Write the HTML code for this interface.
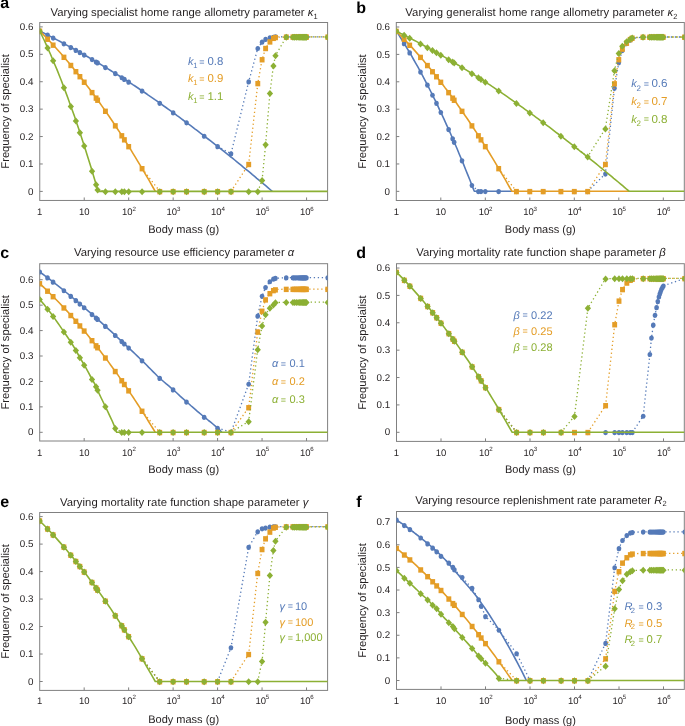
<!DOCTYPE html>
<html><head><meta charset="utf-8"><style>
html,body{margin:0;padding:0;background:#fff;}
svg{display:block;font-family:"Liberation Sans", sans-serif;text-rendering:geometricPrecision;will-change:transform;}
</style></head><body>
<svg width="685" height="726" viewBox="0 0 685 726">
<rect width="685" height="726" fill="#fff"/>
<rect x="39.75" y="22.50" width="287.85" height="177.95" fill="none" stroke="#808080" stroke-width="1"/>
<line x1="39.75" y1="191.40" x2="42.75" y2="191.40" stroke="#808080" stroke-width="1"/>
<text x="33.45" y="194.55" text-anchor="end" font-size="9.8" fill="#231f20">0</text>
<line x1="39.75" y1="163.98" x2="42.75" y2="163.98" stroke="#808080" stroke-width="1"/>
<text x="33.45" y="167.13" text-anchor="end" font-size="9.8" fill="#231f20">0.1</text>
<line x1="39.75" y1="136.56" x2="42.75" y2="136.56" stroke="#808080" stroke-width="1"/>
<text x="33.45" y="139.71" text-anchor="end" font-size="9.8" fill="#231f20">0.2</text>
<line x1="39.75" y1="109.14" x2="42.75" y2="109.14" stroke="#808080" stroke-width="1"/>
<text x="33.45" y="112.29" text-anchor="end" font-size="9.8" fill="#231f20">0.3</text>
<line x1="39.75" y1="81.72" x2="42.75" y2="81.72" stroke="#808080" stroke-width="1"/>
<text x="33.45" y="84.87" text-anchor="end" font-size="9.8" fill="#231f20">0.4</text>
<line x1="39.75" y1="54.30" x2="42.75" y2="54.30" stroke="#808080" stroke-width="1"/>
<text x="33.45" y="57.45" text-anchor="end" font-size="9.8" fill="#231f20">0.5</text>
<line x1="39.75" y1="26.88" x2="42.75" y2="26.88" stroke="#808080" stroke-width="1"/>
<text x="33.45" y="30.03" text-anchor="end" font-size="9.8" fill="#231f20">0.6</text>
<text x="39.75" y="215.30" text-anchor="middle" font-size="9.5" fill="#231f20">1</text>
<line x1="84.22" y1="200.45" x2="84.22" y2="197.45" stroke="#808080" stroke-width="1"/>
<text x="84.22" y="215.30" text-anchor="middle" font-size="9.5" fill="#231f20">10</text>
<line x1="128.69" y1="200.45" x2="128.69" y2="197.45" stroke="#808080" stroke-width="1"/>
<text x="122.09" y="215.30" font-size="9.5" fill="#231f20">10<tspan font-size="6.2" dx="-0.2" dy="-4.3">2</tspan></text>
<line x1="173.16" y1="200.45" x2="173.16" y2="197.45" stroke="#808080" stroke-width="1"/>
<text x="166.56" y="215.30" font-size="9.5" fill="#231f20">10<tspan font-size="6.2" dx="-0.2" dy="-4.3">3</tspan></text>
<line x1="217.63" y1="200.45" x2="217.63" y2="197.45" stroke="#808080" stroke-width="1"/>
<text x="211.03" y="215.30" font-size="9.5" fill="#231f20">10<tspan font-size="6.2" dx="-0.2" dy="-4.3">4</tspan></text>
<line x1="262.10" y1="200.45" x2="262.10" y2="197.45" stroke="#808080" stroke-width="1"/>
<text x="255.50" y="215.30" font-size="9.5" fill="#231f20">10<tspan font-size="6.2" dx="-0.2" dy="-4.3">5</tspan></text>
<line x1="306.57" y1="200.45" x2="306.57" y2="197.45" stroke="#808080" stroke-width="1"/>
<text x="299.97" y="215.30" font-size="9.5" fill="#231f20">10<tspan font-size="6.2" dx="-0.2" dy="-4.3">6</tspan></text>
<clipPath id="c62"><rect x="39.75" y="22.50" width="287.85" height="177.95"/></clipPath>
<g clip-path="url(#c62)">
<g fill="#557ab8"><polyline fill="none" stroke="#557ab8" stroke-width="1.6" stroke-linejoin="round" points="39.8,31.0 42.0,32.1 44.2,33.2 46.4,34.4 48.6,35.5 50.8,36.6 53.0,37.8 55.3,39.0 57.5,40.1 59.7,41.3 61.9,42.5 64.1,43.7 66.3,44.9 68.5,46.1 70.8,47.3 73.0,48.5 75.2,49.8 77.4,51.0 79.6,52.2 81.8,53.5 84.1,54.8 86.3,56.0 88.5,57.3 90.7,58.6 92.9,59.9 95.1,61.2 97.3,62.5 99.6,63.8 101.8,65.1 104.0,66.5 106.2,67.8 108.4,69.1 110.6,70.5 112.8,71.9 115.1,73.2 117.3,74.6 119.5,76.0 121.7,77.4 123.9,78.8 126.1,80.3 128.4,81.7 130.6,83.1 132.8,84.6 135.0,86.0 137.2,87.5 139.4,89.0 141.6,90.5 143.9,92.0 146.1,93.5 148.3,95.1 150.5,96.6 152.7,98.1 154.9,99.7 157.1,101.2 159.4,102.8 161.6,104.4 163.8,106.0 166.0,107.5 168.2,109.1 170.4,110.7 172.7,112.3 174.9,113.9 177.1,115.6 179.3,117.2 181.5,118.8 183.7,120.5 185.9,122.1 188.2,123.8 190.4,125.4 192.6,127.1 194.8,128.8 197.0,130.4 199.2,132.1 201.4,133.8 203.7,135.5 205.9,137.3 208.1,139.0 210.3,140.7 212.5,142.4 214.7,144.2 217.0,145.9 219.2,147.6 221.4,149.4 223.6,151.2 225.8,152.9 228.0,154.7 230.2,156.5 232.5,158.2 234.7,160.0 236.9,161.8 239.1,163.6 241.3,165.4 243.5,167.3 245.7,169.1 248.0,170.9 250.2,172.7 252.4,174.6 254.6,176.4 256.8,178.3 259.0,180.1 261.3,182.0 263.5,183.9 265.7,185.7 267.9,187.6 270.1,189.5 272.3,191.4 272.3,191.4"/><polyline fill="none" stroke="#557ab8" stroke-width="1.3" stroke-dasharray="1.3 2.7" points="217.6,146.4 231.0,153.7 248.7,81.7 257.8,48.3 262.1,42.0 265.6,39.2 269.9,37.6 273.4,37.0 275.5,36.6 286.3,36.9 293.0,36.9 294.6,36.9 296.3,36.9 298.1,36.9 299.7,36.9 300.9,36.9 302.0,36.9 302.9,36.9 303.7,36.9 304.6,36.9 305.6,36.9 306.5,36.9 327.8,36.9"/><ellipse cx="39.75" cy="31.24" rx="2.3" ry="2.6"/><ellipse cx="47.58" cy="35.21" rx="2.3" ry="2.6"/><ellipse cx="53.14" cy="38.09" rx="2.3" ry="2.6"/><ellipse cx="63.94" cy="43.84" rx="2.3" ry="2.6"/><ellipse cx="70.83" cy="47.60" rx="2.3" ry="2.6"/><ellipse cx="75.90" cy="50.41" rx="2.3" ry="2.6"/><ellipse cx="79.91" cy="52.65" rx="2.3" ry="2.6"/><ellipse cx="84.22" cy="55.10" rx="2.3" ry="2.6"/><ellipse cx="92.05" cy="59.61" rx="2.3" ry="2.6"/><ellipse cx="96.09" cy="61.99" rx="2.3" ry="2.6"/><ellipse cx="97.61" cy="62.88" rx="2.3" ry="2.6"/><ellipse cx="105.43" cy="67.58" rx="2.3" ry="2.6"/><ellipse cx="115.30" cy="73.65" rx="2.3" ry="2.6"/><ellipse cx="121.80" cy="77.74" rx="2.3" ry="2.6"/><ellipse cx="124.38" cy="79.38" rx="2.3" ry="2.6"/><ellipse cx="128.69" cy="82.16" rx="2.3" ry="2.6"/><ellipse cx="142.08" cy="91.05" rx="2.3" ry="2.6"/><ellipse cx="159.77" cy="103.35" rx="2.3" ry="2.6"/><ellipse cx="173.16" cy="112.95" rx="2.3" ry="2.6"/><ellipse cx="186.55" cy="122.80" rx="2.3" ry="2.6"/><ellipse cx="204.24" cy="136.24" rx="2.3" ry="2.6"/><ellipse cx="217.63" cy="146.68" rx="2.3" ry="2.6"/><ellipse cx="231.02" cy="153.95" rx="2.3" ry="2.6"/><ellipse cx="248.71" cy="81.97" rx="2.3" ry="2.6"/><ellipse cx="257.79" cy="48.52" rx="2.3" ry="2.6"/><ellipse cx="262.10" cy="42.21" rx="2.3" ry="2.6"/><ellipse cx="265.61" cy="39.47" rx="2.3" ry="2.6"/><ellipse cx="269.93" cy="37.82" rx="2.3" ry="2.6"/><ellipse cx="273.44" cy="37.28" rx="2.3" ry="2.6"/><ellipse cx="275.49" cy="36.86" rx="2.3" ry="2.6"/><ellipse cx="286.29" cy="37.14" rx="2.3" ry="2.6"/><ellipse cx="292.96" cy="37.14" rx="2.3" ry="2.6"/><ellipse cx="294.56" cy="37.14" rx="2.3" ry="2.6"/><ellipse cx="296.34" cy="37.14" rx="2.3" ry="2.6"/><ellipse cx="298.12" cy="37.14" rx="2.3" ry="2.6"/><ellipse cx="299.68" cy="37.14" rx="2.3" ry="2.6"/><ellipse cx="300.88" cy="37.14" rx="2.3" ry="2.6"/><ellipse cx="301.99" cy="37.14" rx="2.3" ry="2.6"/><ellipse cx="302.88" cy="37.14" rx="2.3" ry="2.6"/><ellipse cx="303.68" cy="37.14" rx="2.3" ry="2.6"/><ellipse cx="304.57" cy="37.14" rx="2.3" ry="2.6"/><ellipse cx="305.59" cy="37.14" rx="2.3" ry="2.6"/><ellipse cx="306.48" cy="37.14" rx="2.3" ry="2.6"/><ellipse cx="327.78" cy="37.14" rx="2.3" ry="2.6"/></g>
<g fill="#e49d26"><polyline fill="none" stroke="#e49d26" stroke-width="1.6" stroke-linejoin="round" points="39.8,31.0 42.0,33.2 44.2,35.5 46.4,37.8 48.6,40.1 50.9,42.5 53.1,44.9 55.3,47.3 57.5,49.8 59.8,52.3 62.0,54.8 64.2,57.4 66.4,60.0 68.6,62.6 70.9,65.3 73.1,68.0 75.3,70.7 77.5,73.5 79.8,76.3 82.0,79.1 84.2,82.0 86.4,84.9 88.6,87.8 90.9,90.8 93.1,93.8 95.3,96.8 97.5,99.9 99.8,103.0 102.0,106.1 104.2,109.3 106.4,112.5 108.7,115.7 110.9,119.0 113.1,122.3 115.3,125.6 117.5,129.0 119.8,132.4 122.0,135.9 124.2,139.3 126.4,142.8 128.7,146.4 130.9,149.9 133.1,153.6 135.3,157.2 137.5,160.9 139.8,164.6 142.0,168.3 144.2,172.1 146.4,175.9 148.7,179.7 150.9,183.6 153.1,187.5 155.3,191.4 155.3,191.4"/><polyline fill="none" stroke="#e49d26" stroke-width="1.3" stroke-dasharray="1.3 2.7" points="142.1,168.5 159.8,191.4"/><polyline fill="none" stroke="#e49d26" stroke-width="1.3" stroke-dasharray="1.3 2.7" points="231.0,191.4 248.7,164.3 257.8,83.4 262.1,59.5 265.6,48.3 269.9,41.7 273.4,38.1 275.5,37.3 286.3,36.9 293.0,36.9 294.6,36.9 296.3,36.9 298.1,36.9 299.7,36.9 300.9,36.9 302.0,36.9 302.9,36.9 303.7,36.9 304.6,36.9 305.6,36.9 306.5,36.9 327.8,36.9"/><rect x="37.30" y="28.54" width="4.9" height="5.4"/><rect x="45.13" y="36.54" width="4.9" height="5.4"/><rect x="50.69" y="42.48" width="4.9" height="5.4"/><rect x="61.49" y="54.62" width="4.9" height="5.4"/><rect x="68.38" y="62.78" width="4.9" height="5.4"/><rect x="73.45" y="68.99" width="4.9" height="5.4"/><rect x="77.46" y="74.01" width="4.9" height="5.4"/><rect x="81.77" y="79.54" width="4.9" height="5.4"/><rect x="89.60" y="89.91" width="4.9" height="5.4"/><rect x="93.64" y="95.43" width="4.9" height="5.4"/><rect x="95.16" y="97.53" width="4.9" height="5.4"/><rect x="102.98" y="108.60" width="4.9" height="5.4"/><rect x="112.85" y="123.17" width="4.9" height="5.4"/><rect x="119.35" y="133.11" width="4.9" height="5.4"/><rect x="121.93" y="137.14" width="4.9" height="5.4"/><rect x="126.24" y="143.98" width="4.9" height="5.4"/><rect x="139.63" y="166.01" width="4.9" height="5.4"/><rect x="157.32" y="188.95" width="4.9" height="5.4"/><rect x="170.71" y="188.95" width="4.9" height="5.4"/><rect x="184.10" y="188.95" width="4.9" height="5.4"/><rect x="201.79" y="188.95" width="4.9" height="5.4"/><rect x="215.18" y="188.95" width="4.9" height="5.4"/><rect x="228.57" y="188.95" width="4.9" height="5.4"/><rect x="246.26" y="161.80" width="4.9" height="5.4"/><rect x="255.34" y="80.92" width="4.9" height="5.4"/><rect x="259.65" y="57.06" width="4.9" height="5.4"/><rect x="263.16" y="45.82" width="4.9" height="5.4"/><rect x="267.48" y="39.24" width="4.9" height="5.4"/><rect x="270.99" y="35.67" width="4.9" height="5.4"/><rect x="273.04" y="34.85" width="4.9" height="5.4"/><rect x="283.84" y="34.44" width="4.9" height="5.4"/><rect x="290.51" y="34.44" width="4.9" height="5.4"/><rect x="292.11" y="34.44" width="4.9" height="5.4"/><rect x="293.89" y="34.44" width="4.9" height="5.4"/><rect x="295.67" y="34.44" width="4.9" height="5.4"/><rect x="297.23" y="34.44" width="4.9" height="5.4"/><rect x="298.43" y="34.44" width="4.9" height="5.4"/><rect x="299.54" y="34.44" width="4.9" height="5.4"/><rect x="300.43" y="34.44" width="4.9" height="5.4"/><rect x="301.23" y="34.44" width="4.9" height="5.4"/><rect x="302.12" y="34.44" width="4.9" height="5.4"/><rect x="303.14" y="34.44" width="4.9" height="5.4"/><rect x="304.03" y="34.44" width="4.9" height="5.4"/><rect x="325.33" y="34.44" width="4.9" height="5.4"/></g>
<g fill="#8cb034"><polyline fill="none" stroke="#8cb034" stroke-width="1.6" stroke-linejoin="round" points="39.8,31.0 41.9,35.5 44.1,40.0 46.2,44.7 48.4,49.6 50.6,54.5 52.7,59.5 54.9,64.7 57.1,69.9 59.2,75.3 61.4,80.8 63.5,86.4 65.7,92.1 67.9,98.0 70.0,103.9 72.2,110.0 74.4,116.1 76.5,122.4 78.7,128.8 80.8,135.3 83.0,142.0 85.2,148.7 87.3,155.6 89.5,162.5 91.7,169.6 93.8,176.8 96.0,184.1 98.1,191.4 98.1,191.4 336.7,191.4"/><polyline fill="none" stroke="#8cb034" stroke-width="1.3" stroke-dasharray="1.3 2.7" points="97.6,189.7 105.4,191.4"/><polyline fill="none" stroke="#8cb034" stroke-width="1.3" stroke-dasharray="1.3 2.7" points="257.8,191.4 262.1,180.2 265.6,144.5 269.9,93.2 273.4,65.8 275.5,55.4 286.3,36.9 293.0,36.9 294.6,36.9 296.3,36.9 298.1,36.9 299.7,36.9 300.9,36.9 302.0,36.9 302.9,36.9 303.7,36.9 304.6,36.9 305.6,36.9 306.5,36.9 327.8,36.9"/><path d="M39.75 27.74L42.90 31.24L39.75 34.74L36.60 31.24Z"/><path d="M47.58 44.46L50.73 47.96L47.58 51.46L44.43 47.96Z"/><path d="M53.14 57.24L56.29 60.74L53.14 64.24L49.99 60.74Z"/><path d="M63.94 84.22L67.09 87.72L63.94 91.22L60.79 87.72Z"/><path d="M70.83 102.91L73.98 106.41L70.83 109.91L67.68 106.41Z"/><path d="M75.90 117.39L79.05 120.89L75.90 124.39L72.75 120.89Z"/><path d="M79.91 129.27L83.06 132.77L79.91 136.27L76.76 132.77Z"/><path d="M84.22 142.50L87.37 146.00L84.22 149.50L81.07 146.00Z"/><path d="M92.05 167.65L95.20 171.15L92.05 174.65L88.90 171.15Z"/><path d="M96.09 181.24L99.24 184.74L96.09 188.24L92.94 184.74Z"/><path d="M97.61 186.42L100.76 189.92L97.61 193.42L94.46 189.92Z"/><path d="M105.43 188.15L108.58 191.65L105.43 195.15L102.28 191.65Z"/><path d="M115.30 188.15L118.45 191.65L115.30 195.15L112.15 191.65Z"/><path d="M121.80 188.15L124.95 191.65L121.80 195.15L118.65 191.65Z"/><path d="M124.38 188.15L127.53 191.65L124.38 195.15L121.23 191.65Z"/><path d="M128.69 188.15L131.84 191.65L128.69 195.15L125.54 191.65Z"/><path d="M142.08 188.15L145.23 191.65L142.08 195.15L138.93 191.65Z"/><path d="M159.77 188.15L162.92 191.65L159.77 195.15L156.62 191.65Z"/><path d="M173.16 188.15L176.31 191.65L173.16 195.15L170.01 191.65Z"/><path d="M186.55 188.15L189.70 191.65L186.55 195.15L183.40 191.65Z"/><path d="M204.24 188.15L207.39 191.65L204.24 195.15L201.09 191.65Z"/><path d="M217.63 188.15L220.78 191.65L217.63 195.15L214.48 191.65Z"/><path d="M231.02 188.15L234.17 191.65L231.02 195.15L227.87 191.65Z"/><path d="M248.71 188.15L251.86 191.65L248.71 195.15L245.56 191.65Z"/><path d="M257.79 188.15L260.94 191.65L257.79 195.15L254.64 191.65Z"/><path d="M262.10 176.91L265.25 180.41L262.10 183.91L258.95 180.41Z"/><path d="M265.61 141.26L268.76 144.76L265.61 148.26L262.46 144.76Z"/><path d="M269.93 89.99L273.08 93.49L269.93 96.99L266.78 93.49Z"/><path d="M273.44 62.57L276.59 66.07L273.44 69.57L270.29 66.07Z"/><path d="M275.49 52.15L278.64 55.65L275.49 59.15L272.34 55.65Z"/><path d="M286.29 33.64L289.44 37.14L286.29 40.64L283.14 37.14Z"/><path d="M292.96 33.64L296.11 37.14L292.96 40.64L289.81 37.14Z"/><path d="M294.56 33.64L297.71 37.14L294.56 40.64L291.41 37.14Z"/><path d="M296.34 33.64L299.49 37.14L296.34 40.64L293.19 37.14Z"/><path d="M298.12 33.64L301.27 37.14L298.12 40.64L294.97 37.14Z"/><path d="M299.68 33.64L302.83 37.14L299.68 40.64L296.53 37.14Z"/><path d="M300.88 33.64L304.03 37.14L300.88 40.64L297.73 37.14Z"/><path d="M301.99 33.64L305.14 37.14L301.99 40.64L298.84 37.14Z"/><path d="M302.88 33.64L306.03 37.14L302.88 40.64L299.73 37.14Z"/><path d="M303.68 33.64L306.83 37.14L303.68 40.64L300.53 37.14Z"/><path d="M304.57 33.64L307.72 37.14L304.57 40.64L301.42 37.14Z"/><path d="M305.59 33.64L308.74 37.14L305.59 40.64L302.44 37.14Z"/><path d="M306.48 33.64L309.63 37.14L306.48 40.64L303.33 37.14Z"/><path d="M327.78 33.64L330.93 37.14L327.78 40.64L324.63 37.14Z"/></g>
</g>
<text x="50.50" y="15.80" font-size="11.3" letter-spacing="0.000" fill="#231f20">Varying specialist home range allometry parameter <tspan font-style="italic">κ</tspan><tspan font-size="7.5" dy="2.8">1</tspan></text>
<text x="0.20" y="8.00" font-size="16" font-weight="bold" fill="#000">a</text>
<text transform="translate(8.90 111.47) rotate(-90)" text-anchor="middle" font-size="11.2" fill="#231f20">Frequency of specialist</text>
<text x="183.68" y="232.50" text-anchor="middle" font-size="11" fill="#231f20">Body mass (g)</text>
<text x="188.10" y="64.95" font-size="11" font-style="italic" fill="#557ab8">k</text>
<text x="193.20" y="67.95" font-size="7.6" fill="#557ab8">1</text>
<text x="199.20" y="64.65" font-size="9" fill="#557ab8">=</text>
<text x="207.40" y="64.95" font-size="11.4" fill="#557ab8">0.8</text>
<text x="188.10" y="82.40" font-size="11" font-style="italic" fill="#e49d26">k</text>
<text x="193.20" y="85.40" font-size="7.6" fill="#e49d26">1</text>
<text x="199.20" y="82.10" font-size="9" fill="#e49d26">=</text>
<text x="207.40" y="82.40" font-size="11.4" fill="#e49d26">0.9</text>
<text x="188.10" y="100.00" font-size="11" font-style="italic" fill="#8cb034">k</text>
<text x="193.20" y="103.00" font-size="7.6" fill="#8cb034">1</text>
<text x="199.20" y="99.70" font-size="9" fill="#8cb034">=</text>
<text x="207.40" y="100.00" font-size="11.4" fill="#8cb034">1.1</text>
<rect x="396.30" y="22.50" width="288.00" height="178.00" fill="none" stroke="#808080" stroke-width="1"/>
<line x1="396.30" y1="191.35" x2="399.30" y2="191.35" stroke="#808080" stroke-width="1"/>
<text x="390.00" y="194.50" text-anchor="end" font-size="9.8" fill="#231f20">0</text>
<line x1="396.30" y1="163.96" x2="399.30" y2="163.96" stroke="#808080" stroke-width="1"/>
<text x="390.00" y="167.11" text-anchor="end" font-size="9.8" fill="#231f20">0.1</text>
<line x1="396.30" y1="136.57" x2="399.30" y2="136.57" stroke="#808080" stroke-width="1"/>
<text x="390.00" y="139.72" text-anchor="end" font-size="9.8" fill="#231f20">0.2</text>
<line x1="396.30" y1="109.18" x2="399.30" y2="109.18" stroke="#808080" stroke-width="1"/>
<text x="390.00" y="112.33" text-anchor="end" font-size="9.8" fill="#231f20">0.3</text>
<line x1="396.30" y1="81.79" x2="399.30" y2="81.79" stroke="#808080" stroke-width="1"/>
<text x="390.00" y="84.94" text-anchor="end" font-size="9.8" fill="#231f20">0.4</text>
<line x1="396.30" y1="54.40" x2="399.30" y2="54.40" stroke="#808080" stroke-width="1"/>
<text x="390.00" y="57.55" text-anchor="end" font-size="9.8" fill="#231f20">0.5</text>
<line x1="396.30" y1="27.01" x2="399.30" y2="27.01" stroke="#808080" stroke-width="1"/>
<text x="390.00" y="30.16" text-anchor="end" font-size="9.8" fill="#231f20">0.6</text>
<text x="396.30" y="215.30" text-anchor="middle" font-size="9.5" fill="#231f20">1</text>
<line x1="440.80" y1="200.50" x2="440.80" y2="197.50" stroke="#808080" stroke-width="1"/>
<text x="440.80" y="215.30" text-anchor="middle" font-size="9.5" fill="#231f20">10</text>
<line x1="485.30" y1="200.50" x2="485.30" y2="197.50" stroke="#808080" stroke-width="1"/>
<text x="478.70" y="215.30" font-size="9.5" fill="#231f20">10<tspan font-size="6.2" dx="-0.2" dy="-4.3">2</tspan></text>
<line x1="529.80" y1="200.50" x2="529.80" y2="197.50" stroke="#808080" stroke-width="1"/>
<text x="523.20" y="215.30" font-size="9.5" fill="#231f20">10<tspan font-size="6.2" dx="-0.2" dy="-4.3">3</tspan></text>
<line x1="574.30" y1="200.50" x2="574.30" y2="197.50" stroke="#808080" stroke-width="1"/>
<text x="567.70" y="215.30" font-size="9.5" fill="#231f20">10<tspan font-size="6.2" dx="-0.2" dy="-4.3">4</tspan></text>
<line x1="618.80" y1="200.50" x2="618.80" y2="197.50" stroke="#808080" stroke-width="1"/>
<text x="612.20" y="215.30" font-size="9.5" fill="#231f20">10<tspan font-size="6.2" dx="-0.2" dy="-4.3">5</tspan></text>
<line x1="663.30" y1="200.50" x2="663.30" y2="197.50" stroke="#808080" stroke-width="1"/>
<text x="656.70" y="215.30" font-size="9.5" fill="#231f20">10<tspan font-size="6.2" dx="-0.2" dy="-4.3">6</tspan></text>
<clipPath id="c418"><rect x="396.30" y="22.50" width="288.00" height="178.00"/></clipPath>
<g clip-path="url(#c418)">
<g fill="#557ab8"><polyline fill="none" stroke="#557ab8" stroke-width="1.6" stroke-linejoin="round" points="396.3,31.1 398.5,34.4 400.6,37.8 402.8,41.3 405.0,44.8 407.1,48.3 409.3,52.0 411.5,55.7 413.6,59.5 415.8,63.3 418.0,67.2 420.1,71.2 422.3,75.2 424.5,79.3 426.6,83.4 428.8,87.7 431.0,92.0 433.1,96.3 435.3,100.7 437.5,105.2 439.6,109.8 441.8,114.4 444.0,119.1 446.1,123.8 448.3,128.6 450.5,133.5 452.6,138.5 454.8,143.5 457.0,148.5 459.1,153.7 461.3,158.9 463.5,164.1 465.6,169.5 467.8,174.9 470.0,180.3 472.1,185.9 474.3,191.3 474.3,191.3 512.0,191.3"/><polyline fill="none" stroke="#557ab8" stroke-width="1.3" stroke-dasharray="1.3 2.7" points="471.9,185.3 478.4,191.3"/><polyline fill="none" stroke="#557ab8" stroke-width="1.3" stroke-dasharray="1.3 2.7" points="587.7,191.3 605.4,173.8 614.5,88.1 618.8,62.6 622.3,50.3 626.6,43.4 630.1,39.9 632.2,38.5 643.0,37.0 649.7,37.0 651.3,37.0 653.1,37.0 654.8,37.0 656.4,37.0 657.6,37.0 658.7,37.0 659.6,37.0 660.4,37.0 661.3,37.0 662.3,37.0 663.2,37.0 684.5,37.0"/><ellipse cx="396.30" cy="31.37" rx="2.3" ry="2.6"/><ellipse cx="404.13" cy="43.66" rx="2.3" ry="2.6"/><ellipse cx="409.69" cy="52.90" rx="2.3" ry="2.6"/><ellipse cx="420.51" cy="72.10" rx="2.3" ry="2.6"/><ellipse cx="427.41" cy="85.19" rx="2.3" ry="2.6"/><ellipse cx="432.48" cy="95.24" rx="2.3" ry="2.6"/><ellipse cx="436.48" cy="103.43" rx="2.3" ry="2.6"/><ellipse cx="440.80" cy="112.50" rx="2.3" ry="2.6"/><ellipse cx="448.63" cy="129.62" rx="2.3" ry="2.6"/><ellipse cx="452.68" cy="138.80" rx="2.3" ry="2.6"/><ellipse cx="454.19" cy="142.29" rx="2.3" ry="2.6"/><ellipse cx="462.03" cy="160.86" rx="2.3" ry="2.6"/><ellipse cx="471.91" cy="185.50" rx="2.3" ry="2.6"/><ellipse cx="478.40" cy="191.60" rx="2.3" ry="2.6"/><ellipse cx="480.98" cy="191.60" rx="2.3" ry="2.6"/><ellipse cx="485.30" cy="191.60" rx="2.3" ry="2.6"/><ellipse cx="498.69" cy="191.60" rx="2.3" ry="2.6"/><ellipse cx="516.41" cy="191.60" rx="2.3" ry="2.6"/><ellipse cx="529.80" cy="191.60" rx="2.3" ry="2.6"/><ellipse cx="543.19" cy="191.60" rx="2.3" ry="2.6"/><ellipse cx="560.91" cy="191.60" rx="2.3" ry="2.6"/><ellipse cx="574.30" cy="191.60" rx="2.3" ry="2.6"/><ellipse cx="587.69" cy="191.60" rx="2.3" ry="2.6"/><ellipse cx="605.41" cy="174.07" rx="2.3" ry="2.6"/><ellipse cx="614.48" cy="88.34" rx="2.3" ry="2.6"/><ellipse cx="618.80" cy="62.87" rx="2.3" ry="2.6"/><ellipse cx="622.32" cy="50.54" rx="2.3" ry="2.6"/><ellipse cx="626.63" cy="43.69" rx="2.3" ry="2.6"/><ellipse cx="630.15" cy="40.13" rx="2.3" ry="2.6"/><ellipse cx="632.19" cy="38.76" rx="2.3" ry="2.6"/><ellipse cx="643.01" cy="37.26" rx="2.3" ry="2.6"/><ellipse cx="649.68" cy="37.26" rx="2.3" ry="2.6"/><ellipse cx="651.29" cy="37.26" rx="2.3" ry="2.6"/><ellipse cx="653.07" cy="37.26" rx="2.3" ry="2.6"/><ellipse cx="654.85" cy="37.26" rx="2.3" ry="2.6"/><ellipse cx="656.40" cy="37.26" rx="2.3" ry="2.6"/><ellipse cx="657.60" cy="37.26" rx="2.3" ry="2.6"/><ellipse cx="658.72" cy="37.26" rx="2.3" ry="2.6"/><ellipse cx="659.61" cy="37.26" rx="2.3" ry="2.6"/><ellipse cx="660.41" cy="37.26" rx="2.3" ry="2.6"/><ellipse cx="661.30" cy="37.26" rx="2.3" ry="2.6"/><ellipse cx="662.32" cy="37.26" rx="2.3" ry="2.6"/><ellipse cx="663.21" cy="37.26" rx="2.3" ry="2.6"/><ellipse cx="684.53" cy="37.26" rx="2.3" ry="2.6"/></g>
<g fill="#e49d26"><polyline fill="none" stroke="#e49d26" stroke-width="1.6" stroke-linejoin="round" points="396.3,31.1 398.5,33.3 400.7,35.6 403.0,37.9 405.2,40.2 407.4,42.6 409.6,45.0 411.9,47.4 414.1,49.9 416.3,52.4 418.5,54.9 420.8,57.5 423.0,60.1 425.2,62.7 427.4,65.4 429.7,68.1 431.9,70.8 434.1,73.5 436.3,76.3 438.6,79.2 440.8,82.0 443.0,84.9 445.2,87.9 447.5,90.8 449.7,93.8 451.9,96.9 454.1,99.9 456.4,103.0 458.6,106.2 460.8,109.3 463.0,112.5 465.2,115.8 467.5,119.0 469.7,122.3 471.9,125.7 474.1,129.0 476.4,132.4 478.6,135.9 480.8,139.3 483.0,142.8 485.3,146.4 487.5,149.9 489.7,153.5 491.9,157.2 494.2,160.9 496.4,164.6 498.6,168.3 500.8,172.1 503.1,175.9 505.3,179.7 507.5,183.6 509.7,187.5 512.0,191.3 512.0,191.3 629.3,191.3"/><polyline fill="none" stroke="#e49d26" stroke-width="1.3" stroke-dasharray="1.3 2.7" points="498.7,168.4 516.4,191.3"/><polyline fill="none" stroke="#e49d26" stroke-width="1.3" stroke-dasharray="1.3 2.7" points="587.7,191.3 605.4,164.2 614.5,83.6 618.8,59.5 622.3,48.9 626.6,42.9 630.1,39.3 632.2,38.0 643.0,37.0 649.7,37.0 651.3,37.0 653.1,37.0 654.8,37.0 656.4,37.0 657.6,37.0 658.7,37.0 659.6,37.0 660.4,37.0 661.3,37.0 662.3,37.0 663.2,37.0 684.5,37.0"/><rect x="393.85" y="28.67" width="4.9" height="5.4"/><rect x="401.68" y="36.66" width="4.9" height="5.4"/><rect x="407.24" y="42.59" width="4.9" height="5.4"/><rect x="418.06" y="54.72" width="4.9" height="5.4"/><rect x="424.96" y="62.87" width="4.9" height="5.4"/><rect x="430.03" y="69.07" width="4.9" height="5.4"/><rect x="434.03" y="74.08" width="4.9" height="5.4"/><rect x="438.35" y="79.61" width="4.9" height="5.4"/><rect x="446.18" y="89.97" width="4.9" height="5.4"/><rect x="450.23" y="95.49" width="4.9" height="5.4"/><rect x="451.74" y="97.58" width="4.9" height="5.4"/><rect x="459.58" y="108.64" width="4.9" height="5.4"/><rect x="469.46" y="123.19" width="4.9" height="5.4"/><rect x="475.95" y="133.12" width="4.9" height="5.4"/><rect x="478.53" y="137.15" width="4.9" height="5.4"/><rect x="482.85" y="143.98" width="4.9" height="5.4"/><rect x="496.24" y="165.98" width="4.9" height="5.4"/><rect x="513.96" y="188.90" width="4.9" height="5.4"/><rect x="527.35" y="188.90" width="4.9" height="5.4"/><rect x="540.74" y="188.90" width="4.9" height="5.4"/><rect x="558.46" y="188.90" width="4.9" height="5.4"/><rect x="571.85" y="188.90" width="4.9" height="5.4"/><rect x="585.24" y="188.90" width="4.9" height="5.4"/><rect x="602.96" y="161.78" width="4.9" height="5.4"/><rect x="612.03" y="81.12" width="4.9" height="5.4"/><rect x="616.35" y="57.04" width="4.9" height="5.4"/><rect x="619.87" y="46.47" width="4.9" height="5.4"/><rect x="624.18" y="40.45" width="4.9" height="5.4"/><rect x="627.70" y="36.89" width="4.9" height="5.4"/><rect x="629.74" y="35.52" width="4.9" height="5.4"/><rect x="640.56" y="34.56" width="4.9" height="5.4"/><rect x="647.23" y="34.56" width="4.9" height="5.4"/><rect x="648.84" y="34.56" width="4.9" height="5.4"/><rect x="650.62" y="34.56" width="4.9" height="5.4"/><rect x="652.39" y="34.56" width="4.9" height="5.4"/><rect x="653.95" y="34.56" width="4.9" height="5.4"/><rect x="655.15" y="34.56" width="4.9" height="5.4"/><rect x="656.27" y="34.56" width="4.9" height="5.4"/><rect x="657.16" y="34.56" width="4.9" height="5.4"/><rect x="657.96" y="34.56" width="4.9" height="5.4"/><rect x="658.85" y="34.56" width="4.9" height="5.4"/><rect x="659.87" y="34.56" width="4.9" height="5.4"/><rect x="660.76" y="34.56" width="4.9" height="5.4"/><rect x="682.08" y="34.56" width="4.9" height="5.4"/></g>
<g fill="#8cb034"><polyline fill="none" stroke="#8cb034" stroke-width="1.6" stroke-linejoin="round" points="396.3,31.1 398.5,32.2 400.7,33.4 403.0,34.5 405.2,35.6 407.4,36.8 409.6,37.9 411.8,39.1 414.0,40.2 416.3,41.4 418.5,42.6 420.7,43.8 422.9,45.0 425.1,46.2 427.4,47.4 429.6,48.7 431.8,49.9 434.0,51.1 436.2,52.4 438.5,53.6 440.7,54.9 442.9,56.1 445.1,57.4 447.3,58.7 449.5,60.0 451.8,61.3 454.0,62.6 456.2,63.9 458.4,65.2 460.6,66.6 462.9,67.9 465.1,69.3 467.3,70.6 469.5,72.0 471.7,73.4 474.0,74.8 476.2,76.2 478.4,77.6 480.6,79.0 482.8,80.4 485.0,81.8 487.3,83.3 489.5,84.7 491.7,86.2 493.9,87.6 496.1,89.1 498.4,90.6 500.6,92.1 502.8,93.7 505.0,95.2 507.2,96.7 509.5,98.3 511.7,99.8 513.9,101.4 516.1,102.9 518.3,104.5 520.5,106.1 522.8,107.7 525.0,109.3 527.2,110.9 529.4,112.5 531.6,114.1 533.9,115.7 536.1,117.3 538.3,118.9 540.5,120.6 542.7,122.2 544.9,123.9 547.2,125.6 549.4,127.2 551.6,128.9 553.8,130.6 556.0,132.3 558.3,134.0 560.5,135.7 562.7,137.4 564.9,139.1 567.1,140.8 569.4,142.6 571.6,144.3 573.8,146.0 576.0,147.8 578.2,149.5 580.4,151.3 582.7,153.0 584.9,154.8 587.1,156.6 589.3,158.4 591.5,160.1 593.8,161.9 596.0,163.7 598.2,165.5 600.4,167.3 602.6,169.1 604.9,171.0 607.1,172.8 609.3,174.6 611.5,176.4 613.7,178.3 615.9,180.1 618.2,182.0 620.4,183.8 622.6,185.7 624.8,187.6 627.0,189.5 629.3,191.3 629.3,191.3 693.4,191.3"/><polyline fill="none" stroke="#8cb034" stroke-width="1.3" stroke-dasharray="1.3 2.7" points="574.3,146.4 587.7,156.8 605.4,128.6 614.5,70.4 618.8,53.3 622.3,45.9 626.6,41.5 630.1,39.1 632.2,37.7 643.0,37.0 649.7,37.0 651.3,37.0 653.1,37.0 654.8,37.0 656.4,37.0 657.6,37.0 658.7,37.0 659.6,37.0 660.4,37.0 661.3,37.0 662.3,37.0 663.2,37.0 684.5,37.0"/><path d="M396.30 27.87L399.45 31.37L396.30 34.87L393.15 31.37Z"/><path d="M404.13 31.83L407.28 35.33L404.13 38.83L400.98 35.33Z"/><path d="M409.69 34.71L412.84 38.21L409.69 41.71L406.54 38.21Z"/><path d="M420.51 40.45L423.66 43.95L420.51 47.45L417.36 43.95Z"/><path d="M427.41 44.20L430.56 47.70L427.41 51.20L424.26 47.70Z"/><path d="M432.48 47.01L435.63 50.51L432.48 54.01L429.33 50.51Z"/><path d="M436.48 49.25L439.63 52.75L436.48 56.25L433.33 52.75Z"/><path d="M440.80 51.70L443.95 55.20L440.80 58.70L437.65 55.20Z"/><path d="M448.63 56.21L451.78 59.71L448.63 63.21L445.48 59.71Z"/><path d="M452.68 58.58L455.83 62.08L452.68 65.58L449.53 62.08Z"/><path d="M454.19 59.47L457.34 62.97L454.19 66.47L451.04 62.97Z"/><path d="M462.03 64.16L465.18 67.66L462.03 71.16L458.88 67.66Z"/><path d="M471.91 70.23L475.06 73.73L471.91 77.23L468.76 73.73Z"/><path d="M478.40 74.31L481.55 77.81L478.40 81.31L475.25 77.81Z"/><path d="M480.98 75.96L484.13 79.46L480.98 82.96L477.83 79.46Z"/><path d="M485.30 78.73L488.45 82.23L485.30 85.73L482.15 82.23Z"/><path d="M498.69 87.61L501.84 91.11L498.69 94.61L495.54 91.11Z"/><path d="M516.41 99.90L519.56 103.40L516.41 106.90L513.26 103.40Z"/><path d="M529.80 109.49L532.95 112.99L529.80 116.49L526.65 112.99Z"/><path d="M543.19 119.33L546.34 122.83L543.19 126.33L540.04 122.83Z"/><path d="M560.91 132.76L564.06 136.26L560.91 139.76L557.76 136.26Z"/><path d="M574.30 143.18L577.45 146.68L574.30 150.18L571.15 146.68Z"/><path d="M587.69 153.53L590.84 157.03L587.69 160.53L584.54 157.03Z"/><path d="M605.41 125.38L608.56 128.88L605.41 132.38L602.26 128.88Z"/><path d="M614.48 67.15L617.63 70.65L614.48 74.15L611.33 70.65Z"/><path d="M618.80 50.05L621.95 53.55L618.80 57.05L615.65 53.55Z"/><path d="M622.32 42.66L625.47 46.16L622.32 49.66L619.17 46.16Z"/><path d="M626.63 38.28L629.78 41.78L626.63 45.28L623.48 41.78Z"/><path d="M630.15 35.81L633.30 39.31L630.15 42.81L627.00 39.31Z"/><path d="M632.19 34.44L635.34 37.94L632.19 41.44L629.04 37.94Z"/><path d="M643.01 33.76L646.16 37.26L643.01 40.76L639.86 37.26Z"/><path d="M649.68 33.76L652.83 37.26L649.68 40.76L646.53 37.26Z"/><path d="M651.29 33.76L654.44 37.26L651.29 40.76L648.14 37.26Z"/><path d="M653.07 33.76L656.22 37.26L653.07 40.76L649.92 37.26Z"/><path d="M654.85 33.76L658.00 37.26L654.85 40.76L651.70 37.26Z"/><path d="M656.40 33.76L659.55 37.26L656.40 40.76L653.25 37.26Z"/><path d="M657.60 33.76L660.75 37.26L657.60 40.76L654.45 37.26Z"/><path d="M658.72 33.76L661.87 37.26L658.72 40.76L655.57 37.26Z"/><path d="M659.61 33.76L662.76 37.26L659.61 40.76L656.46 37.26Z"/><path d="M660.41 33.76L663.56 37.26L660.41 40.76L657.26 37.26Z"/><path d="M661.30 33.76L664.45 37.26L661.30 40.76L658.15 37.26Z"/><path d="M662.32 33.76L665.47 37.26L662.32 40.76L659.17 37.26Z"/><path d="M663.21 33.76L666.36 37.26L663.21 40.76L660.06 37.26Z"/><path d="M684.53 33.76L687.68 37.26L684.53 40.76L681.38 37.26Z"/></g>
</g>
<text x="405.30" y="15.90" font-size="11.3" letter-spacing="0.050" fill="#231f20">Varying generalist home range allometry parameter <tspan font-style="italic">κ</tspan><tspan font-size="7.5" dy="2.8">2</tspan></text>
<text x="356.20" y="12.80" font-size="16" font-weight="bold" fill="#000">b</text>
<text transform="translate(365.50 111.50) rotate(-90)" text-anchor="middle" font-size="11.2" fill="#231f20">Frequency of specialist</text>
<text x="540.30" y="232.50" text-anchor="middle" font-size="11" fill="#231f20">Body mass (g)</text>
<text x="631.20" y="87.20" font-size="11" font-style="italic" fill="#557ab8">k</text>
<text x="636.60" y="90.60" font-size="8" fill="#557ab8">2</text>
<text x="643.80" y="86.90" font-size="9" fill="#557ab8">=</text>
<text x="651.40" y="87.20" font-size="11.6" fill="#557ab8">0.6</text>
<text x="631.20" y="105.00" font-size="11" font-style="italic" fill="#e49d26">k</text>
<text x="636.60" y="108.40" font-size="8" fill="#e49d26">2</text>
<text x="643.80" y="104.70" font-size="9" fill="#e49d26">=</text>
<text x="651.40" y="105.00" font-size="11.6" fill="#e49d26">0.7</text>
<text x="631.20" y="122.70" font-size="11" font-style="italic" fill="#8cb034">k</text>
<text x="636.60" y="126.10" font-size="8" fill="#8cb034">2</text>
<text x="643.80" y="122.40" font-size="9" fill="#8cb034">=</text>
<text x="651.40" y="122.70" font-size="11.6" fill="#8cb034">0.8</text>
<rect x="39.70" y="263.70" width="287.90" height="177.30" fill="none" stroke="#808080" stroke-width="1"/>
<line x1="39.70" y1="432.30" x2="42.70" y2="432.30" stroke="#808080" stroke-width="1"/>
<text x="33.40" y="435.45" text-anchor="end" font-size="9.8" fill="#231f20">0</text>
<line x1="39.70" y1="406.87" x2="42.70" y2="406.87" stroke="#808080" stroke-width="1"/>
<text x="33.40" y="410.02" text-anchor="end" font-size="9.8" fill="#231f20">0.1</text>
<line x1="39.70" y1="381.44" x2="42.70" y2="381.44" stroke="#808080" stroke-width="1"/>
<text x="33.40" y="384.59" text-anchor="end" font-size="9.8" fill="#231f20">0.2</text>
<line x1="39.70" y1="356.01" x2="42.70" y2="356.01" stroke="#808080" stroke-width="1"/>
<text x="33.40" y="359.16" text-anchor="end" font-size="9.8" fill="#231f20">0.3</text>
<line x1="39.70" y1="330.58" x2="42.70" y2="330.58" stroke="#808080" stroke-width="1"/>
<text x="33.40" y="333.73" text-anchor="end" font-size="9.8" fill="#231f20">0.4</text>
<line x1="39.70" y1="305.15" x2="42.70" y2="305.15" stroke="#808080" stroke-width="1"/>
<text x="33.40" y="308.30" text-anchor="end" font-size="9.8" fill="#231f20">0.5</text>
<line x1="39.70" y1="279.72" x2="42.70" y2="279.72" stroke="#808080" stroke-width="1"/>
<text x="33.40" y="282.87" text-anchor="end" font-size="9.8" fill="#231f20">0.6</text>
<text x="39.70" y="455.60" text-anchor="middle" font-size="9.5" fill="#231f20">1</text>
<line x1="84.17" y1="441.00" x2="84.17" y2="438.00" stroke="#808080" stroke-width="1"/>
<text x="84.17" y="455.60" text-anchor="middle" font-size="9.5" fill="#231f20">10</text>
<line x1="128.64" y1="441.00" x2="128.64" y2="438.00" stroke="#808080" stroke-width="1"/>
<text x="122.04" y="455.60" font-size="9.5" fill="#231f20">10<tspan font-size="6.2" dx="-0.2" dy="-4.3">2</tspan></text>
<line x1="173.11" y1="441.00" x2="173.11" y2="438.00" stroke="#808080" stroke-width="1"/>
<text x="166.51" y="455.60" font-size="9.5" fill="#231f20">10<tspan font-size="6.2" dx="-0.2" dy="-4.3">3</tspan></text>
<line x1="217.58" y1="441.00" x2="217.58" y2="438.00" stroke="#808080" stroke-width="1"/>
<text x="210.98" y="455.60" font-size="9.5" fill="#231f20">10<tspan font-size="6.2" dx="-0.2" dy="-4.3">4</tspan></text>
<line x1="262.05" y1="441.00" x2="262.05" y2="438.00" stroke="#808080" stroke-width="1"/>
<text x="255.45" y="455.60" font-size="9.5" fill="#231f20">10<tspan font-size="6.2" dx="-0.2" dy="-4.3">5</tspan></text>
<line x1="306.52" y1="441.00" x2="306.52" y2="438.00" stroke="#808080" stroke-width="1"/>
<text x="299.92" y="455.60" font-size="9.5" fill="#231f20">10<tspan font-size="6.2" dx="-0.2" dy="-4.3">6</tspan></text>
<clipPath id="c303"><rect x="39.70" y="263.70" width="287.90" height="177.30"/></clipPath>
<g clip-path="url(#c303)">
<g fill="#557ab8"><polyline fill="none" stroke="#557ab8" stroke-width="1.6" stroke-linejoin="round" points="39.7,271.8 41.9,273.5 44.1,275.1 46.4,276.8 48.6,278.5 50.8,280.2 53.0,281.9 55.2,283.6 57.5,285.4 59.7,287.1 61.9,288.9 64.1,290.7 66.3,292.5 68.6,294.3 70.8,296.1 73.0,298.0 75.2,299.9 77.5,301.7 79.7,303.6 81.9,305.5 84.1,307.4 86.3,309.4 88.6,311.3 90.8,313.2 93.0,315.2 95.2,317.1 97.4,319.1 99.7,321.1 101.9,323.1 104.1,325.1 106.3,327.1 108.5,329.1 110.8,331.1 113.0,333.2 115.2,335.2 117.4,337.3 119.6,339.3 121.9,341.4 124.1,343.5 126.3,345.6 128.5,347.7 130.8,349.8 133.0,351.9 135.2,354.0 137.4,356.1 139.6,358.3 141.9,360.4 144.1,362.6 146.3,364.8 148.5,367.1 150.7,369.3 153.0,371.6 155.2,373.8 157.4,376.0 159.6,378.0 161.8,380.0 164.1,382.0 166.3,383.9 168.5,385.7 170.7,387.6 172.9,389.6 175.2,391.5 177.4,393.5 179.6,395.6 181.8,397.6 184.1,399.6 186.3,401.6 188.5,403.5 190.7,405.5 192.9,407.4 195.2,409.3 197.4,411.3 199.6,413.2 201.8,415.0 204.0,416.9 206.3,418.7 208.5,420.5 210.7,422.2 212.9,424.0 215.1,425.8 217.4,427.8 219.6,429.9 221.8,432.3 221.8,432.3"/><polyline fill="none" stroke="#557ab8" stroke-width="1.3" stroke-dasharray="1.3 2.7" points="217.6,428.0 231.0,432.3 248.7,384.0 257.7,316.0 262.1,296.1 265.6,287.3 269.9,281.5 273.4,279.0 275.4,278.2 286.2,277.7 292.9,277.7 294.5,277.7 296.3,277.7 298.1,277.7 299.6,277.7 300.8,277.7 301.9,277.7 302.8,277.7 303.6,277.7 304.5,277.7 305.5,277.7 306.4,277.7 327.7,277.7"/><ellipse cx="39.70" cy="272.09" rx="2.3" ry="2.6"/><ellipse cx="47.53" cy="277.94" rx="2.3" ry="2.6"/><ellipse cx="53.09" cy="282.21" rx="2.3" ry="2.6"/><ellipse cx="63.89" cy="290.75" rx="2.3" ry="2.6"/><ellipse cx="70.78" cy="296.39" rx="2.3" ry="2.6"/><ellipse cx="75.85" cy="300.64" rx="2.3" ry="2.6"/><ellipse cx="79.86" cy="304.04" rx="2.3" ry="2.6"/><ellipse cx="84.17" cy="307.74" rx="2.3" ry="2.6"/><ellipse cx="92.00" cy="314.53" rx="2.3" ry="2.6"/><ellipse cx="96.04" cy="318.10" rx="2.3" ry="2.6"/><ellipse cx="97.56" cy="319.44" rx="2.3" ry="2.6"/><ellipse cx="105.38" cy="326.46" rx="2.3" ry="2.6"/><ellipse cx="115.25" cy="335.51" rx="2.3" ry="2.6"/><ellipse cx="121.75" cy="341.56" rx="2.3" ry="2.6"/><ellipse cx="124.33" cy="343.98" rx="2.3" ry="2.6"/><ellipse cx="128.64" cy="348.05" rx="2.3" ry="2.6"/><ellipse cx="142.03" cy="360.84" rx="2.3" ry="2.6"/><ellipse cx="159.72" cy="378.38" rx="2.3" ry="2.6"/><ellipse cx="173.11" cy="389.95" rx="2.3" ry="2.6"/><ellipse cx="186.50" cy="402.03" rx="2.3" ry="2.6"/><ellipse cx="204.19" cy="417.29" rx="2.3" ry="2.6"/><ellipse cx="217.58" cy="428.23" rx="2.3" ry="2.6"/><ellipse cx="230.97" cy="432.55" rx="2.3" ry="2.6"/><ellipse cx="248.66" cy="384.23" rx="2.3" ry="2.6"/><ellipse cx="257.74" cy="316.21" rx="2.3" ry="2.6"/><ellipse cx="262.05" cy="296.35" rx="2.3" ry="2.6"/><ellipse cx="265.56" cy="287.60" rx="2.3" ry="2.6"/><ellipse cx="269.88" cy="281.75" rx="2.3" ry="2.6"/><ellipse cx="273.39" cy="279.21" rx="2.3" ry="2.6"/><ellipse cx="275.44" cy="278.44" rx="2.3" ry="2.6"/><ellipse cx="286.24" cy="277.94" rx="2.3" ry="2.6"/><ellipse cx="292.91" cy="277.94" rx="2.3" ry="2.6"/><ellipse cx="294.51" cy="277.94" rx="2.3" ry="2.6"/><ellipse cx="296.29" cy="277.94" rx="2.3" ry="2.6"/><ellipse cx="298.07" cy="277.94" rx="2.3" ry="2.6"/><ellipse cx="299.63" cy="277.94" rx="2.3" ry="2.6"/><ellipse cx="300.83" cy="277.94" rx="2.3" ry="2.6"/><ellipse cx="301.94" cy="277.94" rx="2.3" ry="2.6"/><ellipse cx="302.83" cy="277.94" rx="2.3" ry="2.6"/><ellipse cx="303.63" cy="277.94" rx="2.3" ry="2.6"/><ellipse cx="304.52" cy="277.94" rx="2.3" ry="2.6"/><ellipse cx="305.54" cy="277.94" rx="2.3" ry="2.6"/><ellipse cx="306.43" cy="277.94" rx="2.3" ry="2.6"/><ellipse cx="327.73" cy="277.94" rx="2.3" ry="2.6"/></g>
<g fill="#e49d26"><polyline fill="none" stroke="#e49d26" stroke-width="1.6" stroke-linejoin="round" points="39.7,283.5 41.9,285.6 44.1,287.7 46.4,289.8 48.6,292.0 50.8,294.2 53.0,296.4 55.3,298.7 57.5,301.0 59.7,303.3 61.9,305.6 64.1,308.0 66.4,310.4 68.6,312.8 70.8,315.3 73.0,317.8 75.3,320.4 77.5,322.9 79.7,325.5 81.9,328.2 84.2,330.8 86.4,333.5 88.6,336.2 90.8,339.0 93.0,341.8 95.3,344.6 97.5,347.4 99.7,350.3 101.9,353.2 104.2,356.2 106.4,359.1 108.6,362.1 110.8,365.2 113.0,368.2 115.3,371.3 117.5,374.4 119.7,377.6 121.9,380.8 124.2,384.0 126.4,387.3 128.6,390.5 130.8,393.9 133.1,397.2 135.3,400.6 137.5,404.0 139.7,407.4 141.9,410.9 144.2,414.4 146.4,417.9 148.6,421.5 150.8,425.1 153.1,428.7 155.3,432.3 155.3,432.3"/><polyline fill="none" stroke="#e49d26" stroke-width="1.3" stroke-dasharray="1.3 2.7" points="142.0,411.0 159.7,432.3"/><polyline fill="none" stroke="#e49d26" stroke-width="1.3" stroke-dasharray="1.3 2.7" points="231.0,432.3 248.7,407.5 257.7,331.9 262.1,311.0 265.6,299.7 269.9,293.5 273.4,290.4 275.4,289.6 286.2,289.1 292.9,289.1 294.5,289.1 296.3,289.1 298.1,289.1 299.6,289.1 300.8,289.1 301.9,289.1 302.8,289.1 303.6,289.1 304.5,289.1 305.5,289.1 306.4,289.1 327.7,289.1"/><rect x="37.25" y="281.08" width="4.9" height="5.4"/><rect x="45.08" y="288.51" width="4.9" height="5.4"/><rect x="50.64" y="294.01" width="4.9" height="5.4"/><rect x="61.44" y="305.27" width="4.9" height="5.4"/><rect x="68.33" y="312.84" width="4.9" height="5.4"/><rect x="73.40" y="318.59" width="4.9" height="5.4"/><rect x="77.41" y="323.25" width="4.9" height="5.4"/><rect x="81.72" y="328.38" width="4.9" height="5.4"/><rect x="89.55" y="338.00" width="4.9" height="5.4"/><rect x="93.59" y="343.12" width="4.9" height="5.4"/><rect x="95.11" y="345.06" width="4.9" height="5.4"/><rect x="102.93" y="355.34" width="4.9" height="5.4"/><rect x="112.80" y="368.85" width="4.9" height="5.4"/><rect x="119.30" y="378.07" width="4.9" height="5.4"/><rect x="121.88" y="381.80" width="4.9" height="5.4"/><rect x="126.19" y="388.14" width="4.9" height="5.4"/><rect x="139.58" y="408.57" width="4.9" height="5.4"/><rect x="157.27" y="429.85" width="4.9" height="5.4"/><rect x="170.66" y="429.85" width="4.9" height="5.4"/><rect x="184.05" y="429.85" width="4.9" height="5.4"/><rect x="201.74" y="429.85" width="4.9" height="5.4"/><rect x="215.13" y="429.85" width="4.9" height="5.4"/><rect x="228.52" y="429.85" width="4.9" height="5.4"/><rect x="246.21" y="405.06" width="4.9" height="5.4"/><rect x="255.29" y="329.40" width="4.9" height="5.4"/><rect x="259.60" y="308.55" width="4.9" height="5.4"/><rect x="263.11" y="297.21" width="4.9" height="5.4"/><rect x="267.43" y="291.00" width="4.9" height="5.4"/><rect x="270.94" y="287.95" width="4.9" height="5.4"/><rect x="272.99" y="287.19" width="4.9" height="5.4"/><rect x="283.79" y="286.68" width="4.9" height="5.4"/><rect x="290.46" y="286.68" width="4.9" height="5.4"/><rect x="292.06" y="286.68" width="4.9" height="5.4"/><rect x="293.84" y="286.68" width="4.9" height="5.4"/><rect x="295.62" y="286.68" width="4.9" height="5.4"/><rect x="297.18" y="286.68" width="4.9" height="5.4"/><rect x="298.38" y="286.68" width="4.9" height="5.4"/><rect x="299.49" y="286.68" width="4.9" height="5.4"/><rect x="300.38" y="286.68" width="4.9" height="5.4"/><rect x="301.18" y="286.68" width="4.9" height="5.4"/><rect x="302.07" y="286.68" width="4.9" height="5.4"/><rect x="303.09" y="286.68" width="4.9" height="5.4"/><rect x="303.98" y="286.68" width="4.9" height="5.4"/><rect x="325.28" y="286.68" width="4.9" height="5.4"/></g>
<g fill="#8cb034"><polyline fill="none" stroke="#8cb034" stroke-width="1.6" stroke-linejoin="round" points="39.7,299.2 41.9,301.9 44.1,304.6 46.3,307.4 48.5,310.2 50.7,313.1 52.9,316.1 55.1,319.1 57.3,322.2 59.5,325.4 61.7,328.6 63.9,331.8 66.1,335.0 68.3,338.2 70.5,341.5 72.7,345.0 74.9,348.6 77.1,352.5 79.3,356.5 81.5,360.3 83.7,364.0 85.9,367.9 88.1,371.9 90.3,376.0 92.5,380.0 94.7,383.8 96.9,388.4 99.0,393.4 101.2,398.0 103.4,402.5 105.6,407.2 107.8,411.7 110.0,416.3 112.2,421.0 114.4,426.1 116.6,432.3 116.6,432.3 336.6,432.3"/><polyline fill="none" stroke="#8cb034" stroke-width="1.3" stroke-dasharray="1.3 2.7" points="115.3,428.2 121.7,432.3"/><polyline fill="none" stroke="#8cb034" stroke-width="1.3" stroke-dasharray="1.3 2.7" points="231.0,432.3 248.7,421.4 257.7,349.5 262.1,325.8 265.6,314.4 269.9,307.9 273.4,304.6 275.4,302.6 286.2,302.2 292.9,302.2 294.5,302.2 296.3,302.2 298.1,302.2 299.6,302.2 300.8,302.2 301.9,302.2 302.8,302.2 303.6,302.2 304.5,302.2 305.5,302.2 306.4,302.2 327.7,302.2"/><path d="M39.70 295.95L42.85 299.45L39.70 302.95L36.55 299.45Z"/><path d="M47.53 305.71L50.68 309.21L47.53 312.71L44.38 309.21Z"/><path d="M53.09 313.09L56.24 316.59L53.09 320.09L49.94 316.59Z"/><path d="M63.89 328.60L67.04 332.10L63.89 335.60L60.74 332.10Z"/><path d="M70.78 338.77L73.93 342.27L70.78 345.77L67.63 342.27Z"/><path d="M75.85 347.06L79.00 350.56L75.85 354.06L72.70 350.56Z"/><path d="M79.86 354.34L83.01 357.84L79.86 361.34L76.71 357.84Z"/><path d="M84.17 361.66L87.32 365.16L84.17 368.66L81.02 365.16Z"/><path d="M92.00 375.90L95.15 379.40L92.00 382.90L88.85 379.40Z"/><path d="M96.04 383.28L99.19 386.78L96.04 390.28L92.89 386.78Z"/><path d="M97.56 386.84L100.71 390.34L97.56 393.84L94.41 390.34Z"/><path d="M105.38 403.37L108.53 406.87L105.38 410.37L102.23 406.87Z"/><path d="M115.25 424.98L118.40 428.48L115.25 431.98L112.10 428.48Z"/><path d="M121.75 429.05L124.90 432.55L121.75 436.05L118.60 432.55Z"/><path d="M124.33 429.05L127.48 432.55L124.33 436.05L121.18 432.55Z"/><path d="M128.64 429.05L131.79 432.55L128.64 436.05L125.49 432.55Z"/><path d="M142.03 429.05L145.18 432.55L142.03 436.05L138.88 432.55Z"/><path d="M159.72 429.05L162.87 432.55L159.72 436.05L156.57 432.55Z"/><path d="M173.11 429.05L176.26 432.55L173.11 436.05L169.96 432.55Z"/><path d="M186.50 429.05L189.65 432.55L186.50 436.05L183.35 432.55Z"/><path d="M204.19 429.05L207.34 432.55L204.19 436.05L201.04 432.55Z"/><path d="M217.58 429.05L220.73 432.55L217.58 436.05L214.43 432.55Z"/><path d="M230.97 429.05L234.12 432.55L230.97 436.05L227.82 432.55Z"/><path d="M248.66 418.14L251.81 421.64L248.66 425.14L245.51 421.64Z"/><path d="M257.74 346.25L260.89 349.75L257.74 353.25L254.59 349.75Z"/><path d="M262.05 322.52L265.20 326.02L262.05 329.52L258.90 326.02Z"/><path d="M265.56 311.16L268.71 314.66L265.56 318.16L262.41 314.66Z"/><path d="M269.88 304.70L273.03 308.20L269.88 311.70L266.73 308.20Z"/><path d="M273.39 301.39L276.54 304.89L273.39 308.39L270.24 304.89Z"/><path d="M275.44 299.36L278.59 302.86L275.44 306.36L272.29 302.86Z"/><path d="M286.24 298.95L289.39 302.45L286.24 305.95L283.09 302.45Z"/><path d="M292.91 298.95L296.06 302.45L292.91 305.95L289.76 302.45Z"/><path d="M294.51 298.95L297.66 302.45L294.51 305.95L291.36 302.45Z"/><path d="M296.29 298.95L299.44 302.45L296.29 305.95L293.14 302.45Z"/><path d="M298.07 298.95L301.22 302.45L298.07 305.95L294.92 302.45Z"/><path d="M299.63 298.95L302.78 302.45L299.63 305.95L296.48 302.45Z"/><path d="M300.83 298.95L303.98 302.45L300.83 305.95L297.68 302.45Z"/><path d="M301.94 298.95L305.09 302.45L301.94 305.95L298.79 302.45Z"/><path d="M302.83 298.95L305.98 302.45L302.83 305.95L299.68 302.45Z"/><path d="M303.63 298.95L306.78 302.45L303.63 305.95L300.48 302.45Z"/><path d="M304.52 298.95L307.67 302.45L304.52 305.95L301.37 302.45Z"/><path d="M305.54 298.95L308.69 302.45L305.54 305.95L302.39 302.45Z"/><path d="M306.43 298.95L309.58 302.45L306.43 305.95L303.28 302.45Z"/><path d="M327.73 298.95L330.88 302.45L327.73 305.95L324.58 302.45Z"/></g>
</g>
<text x="74.10" y="256.30" font-size="11.3" letter-spacing="0.000" fill="#231f20">Varying resource use efficiency parameter <tspan font-style="italic">α</tspan></text>
<text x="0.20" y="257.50" font-size="16" font-weight="bold" fill="#000">c</text>
<text transform="translate(9.00 352.35) rotate(-90)" text-anchor="middle" font-size="11.2" fill="#231f20">Frequency of specialist</text>
<text x="183.65" y="473.30" text-anchor="middle" font-size="11" fill="#231f20">Body mass (g)</text>
<text x="272.00" y="367.10" font-size="11" font-style="italic" fill="#557ab8">α</text>
<text x="280.80" y="366.80" font-size="9" fill="#557ab8">=</text>
<text x="289.50" y="367.10" font-size="11" fill="#557ab8">0.1</text>
<text x="272.00" y="385.20" font-size="11" font-style="italic" fill="#e49d26">α</text>
<text x="280.80" y="384.90" font-size="9" fill="#e49d26">=</text>
<text x="289.50" y="385.20" font-size="11" fill="#e49d26">0.2</text>
<text x="272.00" y="403.00" font-size="11" font-style="italic" fill="#8cb034">α</text>
<text x="280.80" y="402.70" font-size="9" fill="#8cb034">=</text>
<text x="289.50" y="403.00" font-size="11" fill="#8cb034">0.3</text>
<rect x="396.50" y="263.70" width="287.80" height="177.70" fill="none" stroke="#808080" stroke-width="1"/>
<line x1="396.50" y1="432.30" x2="399.50" y2="432.30" stroke="#808080" stroke-width="1"/>
<text x="390.20" y="435.45" text-anchor="end" font-size="9.8" fill="#231f20">0</text>
<line x1="396.50" y1="404.92" x2="399.50" y2="404.92" stroke="#808080" stroke-width="1"/>
<text x="390.20" y="408.07" text-anchor="end" font-size="9.8" fill="#231f20">0.1</text>
<line x1="396.50" y1="377.54" x2="399.50" y2="377.54" stroke="#808080" stroke-width="1"/>
<text x="390.20" y="380.69" text-anchor="end" font-size="9.8" fill="#231f20">0.2</text>
<line x1="396.50" y1="350.16" x2="399.50" y2="350.16" stroke="#808080" stroke-width="1"/>
<text x="390.20" y="353.31" text-anchor="end" font-size="9.8" fill="#231f20">0.3</text>
<line x1="396.50" y1="322.78" x2="399.50" y2="322.78" stroke="#808080" stroke-width="1"/>
<text x="390.20" y="325.93" text-anchor="end" font-size="9.8" fill="#231f20">0.4</text>
<line x1="396.50" y1="295.40" x2="399.50" y2="295.40" stroke="#808080" stroke-width="1"/>
<text x="390.20" y="298.55" text-anchor="end" font-size="9.8" fill="#231f20">0.5</text>
<line x1="396.50" y1="268.02" x2="399.50" y2="268.02" stroke="#808080" stroke-width="1"/>
<text x="390.20" y="271.17" text-anchor="end" font-size="9.8" fill="#231f20">0.6</text>
<text x="396.50" y="455.60" text-anchor="middle" font-size="9.5" fill="#231f20">1</text>
<line x1="441.00" y1="441.40" x2="441.00" y2="438.40" stroke="#808080" stroke-width="1"/>
<text x="441.00" y="455.60" text-anchor="middle" font-size="9.5" fill="#231f20">10</text>
<line x1="485.50" y1="441.40" x2="485.50" y2="438.40" stroke="#808080" stroke-width="1"/>
<text x="478.90" y="455.60" font-size="9.5" fill="#231f20">10<tspan font-size="6.2" dx="-0.2" dy="-4.3">2</tspan></text>
<line x1="530.00" y1="441.40" x2="530.00" y2="438.40" stroke="#808080" stroke-width="1"/>
<text x="523.40" y="455.60" font-size="9.5" fill="#231f20">10<tspan font-size="6.2" dx="-0.2" dy="-4.3">3</tspan></text>
<line x1="574.50" y1="441.40" x2="574.50" y2="438.40" stroke="#808080" stroke-width="1"/>
<text x="567.90" y="455.60" font-size="9.5" fill="#231f20">10<tspan font-size="6.2" dx="-0.2" dy="-4.3">4</tspan></text>
<line x1="619.00" y1="441.40" x2="619.00" y2="438.40" stroke="#808080" stroke-width="1"/>
<text x="612.40" y="455.60" font-size="9.5" fill="#231f20">10<tspan font-size="6.2" dx="-0.2" dy="-4.3">5</tspan></text>
<line x1="663.50" y1="441.40" x2="663.50" y2="438.40" stroke="#808080" stroke-width="1"/>
<text x="656.90" y="455.60" font-size="9.5" fill="#231f20">10<tspan font-size="6.2" dx="-0.2" dy="-4.3">6</tspan></text>
<clipPath id="c660"><rect x="396.50" y="263.70" width="287.80" height="177.70"/></clipPath>
<g clip-path="url(#c660)">
<g fill="#557ab8"><polyline fill="none" stroke="#557ab8" stroke-width="1.3" stroke-dasharray="1.3 2.7" points="498.9,409.4 516.6,432.3"/><polyline fill="none" stroke="#557ab8" stroke-width="1.3" stroke-dasharray="1.3 2.7" points="632.4,432.3 643.2,416.0 649.9,354.3 651.5,337.8 653.3,325.0 655.0,315.1 656.6,307.4 657.8,301.4 658.9,296.8 659.8,293.8 660.6,291.6 661.5,289.1 662.5,287.2 663.4,285.8 684.7,278.4"/><ellipse cx="396.50" cy="272.38" rx="2.3" ry="2.6"/><ellipse cx="404.33" cy="280.37" rx="2.3" ry="2.6"/><ellipse cx="409.89" cy="286.29" rx="2.3" ry="2.6"/><ellipse cx="420.71" cy="298.42" rx="2.3" ry="2.6"/><ellipse cx="427.61" cy="306.56" rx="2.3" ry="2.6"/><ellipse cx="432.68" cy="312.76" rx="2.3" ry="2.6"/><ellipse cx="436.68" cy="317.78" rx="2.3" ry="2.6"/><ellipse cx="441.00" cy="323.30" rx="2.3" ry="2.6"/><ellipse cx="448.83" cy="333.66" rx="2.3" ry="2.6"/><ellipse cx="452.88" cy="339.17" rx="2.3" ry="2.6"/><ellipse cx="454.39" cy="341.26" rx="2.3" ry="2.6"/><ellipse cx="462.23" cy="352.32" rx="2.3" ry="2.6"/><ellipse cx="472.11" cy="366.87" rx="2.3" ry="2.6"/><ellipse cx="478.60" cy="376.80" rx="2.3" ry="2.6"/><ellipse cx="481.18" cy="380.82" rx="2.3" ry="2.6"/><ellipse cx="485.50" cy="387.65" rx="2.3" ry="2.6"/><ellipse cx="498.89" cy="409.64" rx="2.3" ry="2.6"/><ellipse cx="516.61" cy="432.55" rx="2.3" ry="2.6"/><ellipse cx="530.00" cy="432.55" rx="2.3" ry="2.6"/><ellipse cx="543.39" cy="432.55" rx="2.3" ry="2.6"/><ellipse cx="561.11" cy="432.55" rx="2.3" ry="2.6"/><ellipse cx="574.50" cy="432.55" rx="2.3" ry="2.6"/><ellipse cx="587.89" cy="432.55" rx="2.3" ry="2.6"/><ellipse cx="605.61" cy="432.55" rx="2.3" ry="2.6"/><ellipse cx="614.68" cy="432.55" rx="2.3" ry="2.6"/><ellipse cx="619.00" cy="432.55" rx="2.3" ry="2.6"/><ellipse cx="622.52" cy="432.55" rx="2.3" ry="2.6"/><ellipse cx="626.83" cy="432.55" rx="2.3" ry="2.6"/><ellipse cx="630.35" cy="432.55" rx="2.3" ry="2.6"/><ellipse cx="632.39" cy="432.55" rx="2.3" ry="2.6"/><ellipse cx="643.21" cy="416.26" rx="2.3" ry="2.6"/><ellipse cx="649.88" cy="354.52" rx="2.3" ry="2.6"/><ellipse cx="651.49" cy="338.09" rx="2.3" ry="2.6"/><ellipse cx="653.26" cy="325.22" rx="2.3" ry="2.6"/><ellipse cx="655.04" cy="315.36" rx="2.3" ry="2.6"/><ellipse cx="656.60" cy="307.70" rx="2.3" ry="2.6"/><ellipse cx="657.80" cy="301.67" rx="2.3" ry="2.6"/><ellipse cx="658.92" cy="297.02" rx="2.3" ry="2.6"/><ellipse cx="659.81" cy="294.01" rx="2.3" ry="2.6"/><ellipse cx="660.61" cy="291.82" rx="2.3" ry="2.6"/><ellipse cx="661.50" cy="289.35" rx="2.3" ry="2.6"/><ellipse cx="662.52" cy="287.44" rx="2.3" ry="2.6"/><ellipse cx="663.41" cy="286.07" rx="2.3" ry="2.6"/><ellipse cx="684.73" cy="278.67" rx="2.3" ry="2.6"/></g>
<g fill="#e49d26"><polyline fill="none" stroke="#e49d26" stroke-width="1.3" stroke-dasharray="1.3 2.7" points="498.9,409.4 516.6,432.3"/><polyline fill="none" stroke="#e49d26" stroke-width="1.3" stroke-dasharray="1.3 2.7" points="587.9,432.3 605.6,405.5 614.7,324.5 619.0,300.9 622.5,289.4 626.8,282.8 630.3,280.1 632.4,279.0 643.2,278.4 649.9,278.4 651.5,278.4 653.3,278.4 655.0,278.4 656.6,278.4 657.8,278.4 658.9,278.4 659.8,278.4 660.6,278.4 661.5,278.4 662.5,278.4 663.4,278.4 684.7,278.4"/><rect x="394.05" y="269.68" width="4.9" height="5.4"/><rect x="401.88" y="277.67" width="4.9" height="5.4"/><rect x="407.44" y="283.59" width="4.9" height="5.4"/><rect x="418.26" y="295.72" width="4.9" height="5.4"/><rect x="425.16" y="303.86" width="4.9" height="5.4"/><rect x="430.23" y="310.06" width="4.9" height="5.4"/><rect x="434.23" y="315.08" width="4.9" height="5.4"/><rect x="438.55" y="320.60" width="4.9" height="5.4"/><rect x="446.38" y="330.96" width="4.9" height="5.4"/><rect x="450.43" y="336.47" width="4.9" height="5.4"/><rect x="451.94" y="338.56" width="4.9" height="5.4"/><rect x="459.78" y="349.62" width="4.9" height="5.4"/><rect x="469.66" y="364.17" width="4.9" height="5.4"/><rect x="476.15" y="374.10" width="4.9" height="5.4"/><rect x="478.73" y="378.12" width="4.9" height="5.4"/><rect x="483.05" y="384.95" width="4.9" height="5.4"/><rect x="496.44" y="406.94" width="4.9" height="5.4"/><rect x="514.16" y="429.85" width="4.9" height="5.4"/><rect x="527.55" y="429.85" width="4.9" height="5.4"/><rect x="540.94" y="429.85" width="4.9" height="5.4"/><rect x="558.66" y="429.85" width="4.9" height="5.4"/><rect x="572.05" y="429.85" width="4.9" height="5.4"/><rect x="585.44" y="429.85" width="4.9" height="5.4"/><rect x="603.16" y="403.02" width="4.9" height="5.4"/><rect x="612.23" y="322.05" width="4.9" height="5.4"/><rect x="616.55" y="298.43" width="4.9" height="5.4"/><rect x="620.07" y="286.93" width="4.9" height="5.4"/><rect x="624.38" y="280.36" width="4.9" height="5.4"/><rect x="627.90" y="277.62" width="4.9" height="5.4"/><rect x="629.94" y="276.52" width="4.9" height="5.4"/><rect x="640.76" y="275.97" width="4.9" height="5.4"/><rect x="647.43" y="275.97" width="4.9" height="5.4"/><rect x="649.03" y="275.97" width="4.9" height="5.4"/><rect x="650.81" y="275.97" width="4.9" height="5.4"/><rect x="652.59" y="275.97" width="4.9" height="5.4"/><rect x="654.15" y="275.97" width="4.9" height="5.4"/><rect x="655.35" y="275.97" width="4.9" height="5.4"/><rect x="656.47" y="275.97" width="4.9" height="5.4"/><rect x="657.36" y="275.97" width="4.9" height="5.4"/><rect x="658.16" y="275.97" width="4.9" height="5.4"/><rect x="659.05" y="275.97" width="4.9" height="5.4"/><rect x="660.07" y="275.97" width="4.9" height="5.4"/><rect x="660.96" y="275.97" width="4.9" height="5.4"/><rect x="682.28" y="275.97" width="4.9" height="5.4"/></g>
<g fill="#8cb034"><polyline fill="none" stroke="#8cb034" stroke-width="1.6" stroke-linejoin="round" points="396.5,272.1 398.7,274.4 400.9,276.6 403.2,278.9 405.4,281.2 407.6,283.6 409.8,286.0 412.1,288.4 414.3,290.9 416.5,293.4 418.7,295.9 421.0,298.5 423.2,301.1 425.4,303.7 427.6,306.4 429.9,309.0 432.1,311.8 434.3,314.5 436.5,317.3 438.8,320.2 441.0,323.0 443.2,325.9 445.4,328.9 447.7,331.8 449.9,334.8 452.1,337.9 454.3,340.9 456.6,344.0 458.8,347.1 461.0,350.3 463.2,353.5 465.4,356.7 467.7,360.0 469.9,363.3 472.1,366.6 474.3,370.0 476.6,373.4 478.8,376.8 481.0,380.3 483.2,383.8 485.5,387.3 487.7,390.9 489.9,394.5 492.1,398.1 494.4,401.8 496.6,405.5 498.8,409.2 501.0,413.0 503.3,416.8 505.5,420.7 507.7,424.5 509.9,428.4 512.2,432.3 512.2,432.3 693.6,432.3"/><polyline fill="none" stroke="#8cb034" stroke-width="1.3" stroke-dasharray="1.3 2.7" points="498.9,409.4 516.6,432.3"/><polyline fill="none" stroke="#8cb034" stroke-width="1.3" stroke-dasharray="1.3 2.7" points="561.1,432.3 574.5,416.1 587.9,308.1 605.6,278.7 614.7,278.4 619.0,278.4 622.5,278.4 626.8,278.4 630.3,278.4 632.4,278.4 643.2,278.4 649.9,278.4 651.5,278.4 653.3,278.4 655.0,278.4 656.6,278.4 657.8,278.4 658.9,278.4 659.8,278.4 660.6,278.4 661.5,278.4 662.5,278.4 663.4,278.4 684.7,278.4"/><path d="M396.50 268.88L399.65 272.38L396.50 275.88L393.35 272.38Z"/><path d="M404.33 276.87L407.48 280.37L404.33 283.87L401.18 280.37Z"/><path d="M409.89 282.79L413.04 286.29L409.89 289.79L406.74 286.29Z"/><path d="M420.71 294.92L423.86 298.42L420.71 301.92L417.56 298.42Z"/><path d="M427.61 303.06L430.76 306.56L427.61 310.06L424.46 306.56Z"/><path d="M432.68 309.26L435.83 312.76L432.68 316.26L429.53 312.76Z"/><path d="M436.68 314.28L439.83 317.78L436.68 321.28L433.53 317.78Z"/><path d="M441.00 319.80L444.15 323.30L441.00 326.80L437.85 323.30Z"/><path d="M448.83 330.16L451.98 333.66L448.83 337.16L445.68 333.66Z"/><path d="M452.88 335.67L456.03 339.17L452.88 342.67L449.73 339.17Z"/><path d="M454.39 337.76L457.54 341.26L454.39 344.76L451.24 341.26Z"/><path d="M462.23 348.82L465.38 352.32L462.23 355.82L459.08 352.32Z"/><path d="M472.11 363.37L475.26 366.87L472.11 370.37L468.96 366.87Z"/><path d="M478.60 373.30L481.75 376.80L478.60 380.30L475.45 376.80Z"/><path d="M481.18 377.32L484.33 380.82L481.18 384.32L478.03 380.82Z"/><path d="M485.50 384.15L488.65 387.65L485.50 391.15L482.35 387.65Z"/><path d="M498.89 406.14L502.04 409.64L498.89 413.14L495.74 409.64Z"/><path d="M516.61 429.05L519.76 432.55L516.61 436.05L513.46 432.55Z"/><path d="M530.00 429.05L533.15 432.55L530.00 436.05L526.85 432.55Z"/><path d="M543.39 429.05L546.54 432.55L543.39 436.05L540.24 432.55Z"/><path d="M561.11 429.05L564.26 432.55L561.11 436.05L557.96 432.55Z"/><path d="M574.50 412.90L577.65 416.40L574.50 419.90L571.35 416.40Z"/><path d="M587.89 304.85L591.04 308.35L587.89 311.85L584.74 308.35Z"/><path d="M605.61 275.45L608.76 278.95L605.61 282.45L602.46 278.95Z"/><path d="M614.68 275.17L617.83 278.67L614.68 282.17L611.53 278.67Z"/><path d="M619.00 275.17L622.15 278.67L619.00 282.17L615.85 278.67Z"/><path d="M622.52 275.17L625.67 278.67L622.52 282.17L619.37 278.67Z"/><path d="M626.83 275.17L629.98 278.67L626.83 282.17L623.68 278.67Z"/><path d="M630.35 275.17L633.50 278.67L630.35 282.17L627.20 278.67Z"/><path d="M632.39 275.17L635.54 278.67L632.39 282.17L629.24 278.67Z"/><path d="M643.21 275.17L646.36 278.67L643.21 282.17L640.06 278.67Z"/><path d="M649.88 275.17L653.03 278.67L649.88 282.17L646.73 278.67Z"/><path d="M651.49 275.17L654.63 278.67L651.49 282.17L648.34 278.67Z"/><path d="M653.26 275.17L656.41 278.67L653.26 282.17L650.12 278.67Z"/><path d="M655.04 275.17L658.19 278.67L655.04 282.17L651.89 278.67Z"/><path d="M656.60 275.17L659.75 278.67L656.60 282.17L653.45 278.67Z"/><path d="M657.80 275.17L660.95 278.67L657.80 282.17L654.65 278.67Z"/><path d="M658.92 275.17L662.07 278.67L658.92 282.17L655.77 278.67Z"/><path d="M659.81 275.17L662.96 278.67L659.81 282.17L656.66 278.67Z"/><path d="M660.61 275.17L663.76 278.67L660.61 282.17L657.46 278.67Z"/><path d="M661.50 275.17L664.65 278.67L661.50 282.17L658.35 278.67Z"/><path d="M662.52 275.17L665.67 278.67L662.52 282.17L659.37 278.67Z"/><path d="M663.41 275.17L666.56 278.67L663.41 282.17L660.26 278.67Z"/><path d="M684.73 275.17L687.88 278.67L684.73 282.17L681.58 278.67Z"/></g>
</g>
<text x="416.20" y="256.00" font-size="11.3" letter-spacing="0.056" fill="#231f20">Varying mortality rate function shape parameter <tspan font-style="italic">β</tspan></text>
<text x="356.20" y="257.50" font-size="16" font-weight="bold" fill="#000">d</text>
<text transform="translate(365.50 352.55) rotate(-90)" text-anchor="middle" font-size="11.2" fill="#231f20">Frequency of specialist</text>
<text x="540.40" y="473.30" text-anchor="middle" font-size="11" fill="#231f20">Body mass (g)</text>
<text x="513.40" y="318.60" font-size="11" font-style="italic" fill="#557ab8">β</text>
<text x="522.50" y="318.30" font-size="9" fill="#557ab8">=</text>
<text x="531.10" y="318.60" font-size="11" fill="#557ab8">0.22</text>
<text x="513.40" y="334.70" font-size="11" font-style="italic" fill="#e49d26">β</text>
<text x="522.50" y="334.40" font-size="9" fill="#e49d26">=</text>
<text x="531.10" y="334.70" font-size="11" fill="#e49d26">0.25</text>
<text x="513.40" y="350.80" font-size="11" font-style="italic" fill="#8cb034">β</text>
<text x="522.50" y="350.50" font-size="9" fill="#8cb034">=</text>
<text x="531.10" y="350.80" font-size="11" fill="#8cb034">0.28</text>
<rect x="39.70" y="512.50" width="287.90" height="177.90" fill="none" stroke="#808080" stroke-width="1"/>
<line x1="39.70" y1="681.50" x2="42.70" y2="681.50" stroke="#808080" stroke-width="1"/>
<text x="33.40" y="684.65" text-anchor="end" font-size="9.8" fill="#231f20">0</text>
<line x1="39.70" y1="654.02" x2="42.70" y2="654.02" stroke="#808080" stroke-width="1"/>
<text x="33.40" y="657.17" text-anchor="end" font-size="9.8" fill="#231f20">0.1</text>
<line x1="39.70" y1="626.54" x2="42.70" y2="626.54" stroke="#808080" stroke-width="1"/>
<text x="33.40" y="629.69" text-anchor="end" font-size="9.8" fill="#231f20">0.2</text>
<line x1="39.70" y1="599.06" x2="42.70" y2="599.06" stroke="#808080" stroke-width="1"/>
<text x="33.40" y="602.21" text-anchor="end" font-size="9.8" fill="#231f20">0.3</text>
<line x1="39.70" y1="571.58" x2="42.70" y2="571.58" stroke="#808080" stroke-width="1"/>
<text x="33.40" y="574.73" text-anchor="end" font-size="9.8" fill="#231f20">0.4</text>
<line x1="39.70" y1="544.10" x2="42.70" y2="544.10" stroke="#808080" stroke-width="1"/>
<text x="33.40" y="547.25" text-anchor="end" font-size="9.8" fill="#231f20">0.5</text>
<line x1="39.70" y1="516.62" x2="42.70" y2="516.62" stroke="#808080" stroke-width="1"/>
<text x="33.40" y="519.77" text-anchor="end" font-size="9.8" fill="#231f20">0.6</text>
<text x="39.70" y="703.70" text-anchor="middle" font-size="9.5" fill="#231f20">1</text>
<line x1="84.17" y1="690.40" x2="84.17" y2="687.40" stroke="#808080" stroke-width="1"/>
<text x="84.17" y="703.70" text-anchor="middle" font-size="9.5" fill="#231f20">10</text>
<line x1="128.64" y1="690.40" x2="128.64" y2="687.40" stroke="#808080" stroke-width="1"/>
<text x="122.04" y="703.70" font-size="9.5" fill="#231f20">10<tspan font-size="6.2" dx="-0.2" dy="-4.3">2</tspan></text>
<line x1="173.11" y1="690.40" x2="173.11" y2="687.40" stroke="#808080" stroke-width="1"/>
<text x="166.51" y="703.70" font-size="9.5" fill="#231f20">10<tspan font-size="6.2" dx="-0.2" dy="-4.3">3</tspan></text>
<line x1="217.58" y1="690.40" x2="217.58" y2="687.40" stroke="#808080" stroke-width="1"/>
<text x="210.98" y="703.70" font-size="9.5" fill="#231f20">10<tspan font-size="6.2" dx="-0.2" dy="-4.3">4</tspan></text>
<line x1="262.05" y1="690.40" x2="262.05" y2="687.40" stroke="#808080" stroke-width="1"/>
<text x="255.45" y="703.70" font-size="9.5" fill="#231f20">10<tspan font-size="6.2" dx="-0.2" dy="-4.3">5</tspan></text>
<line x1="306.52" y1="690.40" x2="306.52" y2="687.40" stroke="#808080" stroke-width="1"/>
<text x="299.92" y="703.70" font-size="9.5" fill="#231f20">10<tspan font-size="6.2" dx="-0.2" dy="-4.3">6</tspan></text>
<clipPath id="c552"><rect x="39.70" y="512.50" width="287.90" height="177.90"/></clipPath>
<g clip-path="url(#c552)">
<g fill="#557ab8"><polyline fill="none" stroke="#557ab8" stroke-width="1.3" stroke-dasharray="1.3 2.7" points="142.0,658.5 159.7,681.5"/><polyline fill="none" stroke="#557ab8" stroke-width="1.3" stroke-dasharray="1.3 2.7" points="217.6,681.5 231.0,647.6 248.7,547.2 257.7,531.6 262.1,528.6 265.6,527.8 269.9,526.9 273.4,526.7 275.4,526.7 286.2,526.7 292.9,526.7 294.5,526.7 296.3,526.7 298.1,526.7 299.6,526.7 300.8,526.7 301.9,526.7 302.8,526.7 303.6,526.7 304.5,526.7 305.5,526.7 306.4,526.7 327.7,526.7"/><ellipse cx="39.70" cy="520.99" rx="2.3" ry="2.6"/><ellipse cx="47.53" cy="529.01" rx="2.3" ry="2.6"/><ellipse cx="53.09" cy="534.96" rx="2.3" ry="2.6"/><ellipse cx="63.89" cy="547.13" rx="2.3" ry="2.6"/><ellipse cx="70.78" cy="555.30" rx="2.3" ry="2.6"/><ellipse cx="75.85" cy="561.52" rx="2.3" ry="2.6"/><ellipse cx="79.86" cy="566.56" rx="2.3" ry="2.6"/><ellipse cx="84.17" cy="572.10" rx="2.3" ry="2.6"/><ellipse cx="92.00" cy="582.49" rx="2.3" ry="2.6"/><ellipse cx="96.04" cy="588.03" rx="2.3" ry="2.6"/><ellipse cx="97.56" cy="590.13" rx="2.3" ry="2.6"/><ellipse cx="105.38" cy="601.23" rx="2.3" ry="2.6"/><ellipse cx="115.25" cy="615.83" rx="2.3" ry="2.6"/><ellipse cx="121.75" cy="625.79" rx="2.3" ry="2.6"/><ellipse cx="124.33" cy="629.83" rx="2.3" ry="2.6"/><ellipse cx="128.64" cy="636.68" rx="2.3" ry="2.6"/><ellipse cx="142.03" cy="658.76" rx="2.3" ry="2.6"/><ellipse cx="159.72" cy="681.75" rx="2.3" ry="2.6"/><ellipse cx="173.11" cy="681.75" rx="2.3" ry="2.6"/><ellipse cx="186.50" cy="681.75" rx="2.3" ry="2.6"/><ellipse cx="204.19" cy="681.75" rx="2.3" ry="2.6"/><ellipse cx="217.58" cy="681.75" rx="2.3" ry="2.6"/><ellipse cx="230.97" cy="647.84" rx="2.3" ry="2.6"/><ellipse cx="248.66" cy="547.46" rx="2.3" ry="2.6"/><ellipse cx="257.74" cy="531.85" rx="2.3" ry="2.6"/><ellipse cx="262.05" cy="528.85" rx="2.3" ry="2.6"/><ellipse cx="265.56" cy="528.05" rx="2.3" ry="2.6"/><ellipse cx="269.88" cy="527.15" rx="2.3" ry="2.6"/><ellipse cx="273.39" cy="526.90" rx="2.3" ry="2.6"/><ellipse cx="275.44" cy="526.90" rx="2.3" ry="2.6"/><ellipse cx="286.24" cy="526.90" rx="2.3" ry="2.6"/><ellipse cx="292.91" cy="526.90" rx="2.3" ry="2.6"/><ellipse cx="294.51" cy="526.90" rx="2.3" ry="2.6"/><ellipse cx="296.29" cy="526.90" rx="2.3" ry="2.6"/><ellipse cx="298.07" cy="526.90" rx="2.3" ry="2.6"/><ellipse cx="299.63" cy="526.90" rx="2.3" ry="2.6"/><ellipse cx="300.83" cy="526.90" rx="2.3" ry="2.6"/><ellipse cx="301.94" cy="526.90" rx="2.3" ry="2.6"/><ellipse cx="302.83" cy="526.90" rx="2.3" ry="2.6"/><ellipse cx="303.63" cy="526.90" rx="2.3" ry="2.6"/><ellipse cx="304.52" cy="526.90" rx="2.3" ry="2.6"/><ellipse cx="305.54" cy="526.90" rx="2.3" ry="2.6"/><ellipse cx="306.43" cy="526.90" rx="2.3" ry="2.6"/><ellipse cx="327.73" cy="526.90" rx="2.3" ry="2.6"/></g>
<g fill="#e49d26"><polyline fill="none" stroke="#e49d26" stroke-width="1.3" stroke-dasharray="1.3 2.7" points="142.0,658.5 159.7,681.5"/><polyline fill="none" stroke="#e49d26" stroke-width="1.3" stroke-dasharray="1.3 2.7" points="231.0,681.5 248.7,654.3 257.7,573.2 262.1,549.3 265.6,538.6 269.9,531.9 273.4,527.8 275.4,527.1 286.2,526.7 292.9,526.7 294.5,526.7 296.3,526.7 298.1,526.7 299.6,526.7 300.8,526.7 301.9,526.7 302.8,526.7 303.6,526.7 304.5,526.7 305.5,526.7 306.4,526.7 327.7,526.7"/><rect x="37.25" y="518.29" width="4.9" height="5.4"/><rect x="45.08" y="526.31" width="4.9" height="5.4"/><rect x="50.64" y="532.26" width="4.9" height="5.4"/><rect x="61.44" y="544.43" width="4.9" height="5.4"/><rect x="68.33" y="552.60" width="4.9" height="5.4"/><rect x="73.40" y="558.82" width="4.9" height="5.4"/><rect x="77.41" y="563.86" width="4.9" height="5.4"/><rect x="81.72" y="569.40" width="4.9" height="5.4"/><rect x="89.55" y="579.79" width="4.9" height="5.4"/><rect x="93.59" y="585.33" width="4.9" height="5.4"/><rect x="95.11" y="587.43" width="4.9" height="5.4"/><rect x="102.93" y="598.53" width="4.9" height="5.4"/><rect x="112.80" y="613.13" width="4.9" height="5.4"/><rect x="119.30" y="623.09" width="4.9" height="5.4"/><rect x="121.88" y="627.13" width="4.9" height="5.4"/><rect x="126.19" y="633.98" width="4.9" height="5.4"/><rect x="139.58" y="656.06" width="4.9" height="5.4"/><rect x="157.27" y="679.05" width="4.9" height="5.4"/><rect x="170.66" y="679.05" width="4.9" height="5.4"/><rect x="184.05" y="679.05" width="4.9" height="5.4"/><rect x="201.74" y="679.05" width="4.9" height="5.4"/><rect x="215.13" y="679.05" width="4.9" height="5.4"/><rect x="228.52" y="679.05" width="4.9" height="5.4"/><rect x="246.21" y="651.84" width="4.9" height="5.4"/><rect x="255.29" y="570.78" width="4.9" height="5.4"/><rect x="259.60" y="546.87" width="4.9" height="5.4"/><rect x="263.11" y="536.15" width="4.9" height="5.4"/><rect x="267.43" y="529.42" width="4.9" height="5.4"/><rect x="270.94" y="525.33" width="4.9" height="5.4"/><rect x="272.99" y="524.61" width="4.9" height="5.4"/><rect x="283.79" y="524.20" width="4.9" height="5.4"/><rect x="290.46" y="524.20" width="4.9" height="5.4"/><rect x="292.06" y="524.20" width="4.9" height="5.4"/><rect x="293.84" y="524.20" width="4.9" height="5.4"/><rect x="295.62" y="524.20" width="4.9" height="5.4"/><rect x="297.18" y="524.20" width="4.9" height="5.4"/><rect x="298.38" y="524.20" width="4.9" height="5.4"/><rect x="299.49" y="524.20" width="4.9" height="5.4"/><rect x="300.38" y="524.20" width="4.9" height="5.4"/><rect x="301.18" y="524.20" width="4.9" height="5.4"/><rect x="302.07" y="524.20" width="4.9" height="5.4"/><rect x="303.09" y="524.20" width="4.9" height="5.4"/><rect x="303.98" y="524.20" width="4.9" height="5.4"/><rect x="325.28" y="524.20" width="4.9" height="5.4"/></g>
<g fill="#8cb034"><polyline fill="none" stroke="#8cb034" stroke-width="1.6" stroke-linejoin="round" points="39.7,520.7 41.9,523.0 44.1,525.2 46.4,527.5 48.6,529.9 50.8,532.3 53.0,534.7 55.3,537.1 57.5,539.6 59.7,542.1 61.9,544.6 64.1,547.2 66.4,549.8 68.6,552.4 70.8,555.1 73.0,557.8 75.3,560.5 77.5,563.3 79.7,566.1 81.9,569.0 84.2,571.8 86.4,574.7 88.6,577.7 90.8,580.7 93.0,583.7 95.3,586.7 97.5,589.8 99.7,592.9 101.9,596.0 104.2,599.2 106.4,602.4 108.6,605.7 110.8,608.9 113.0,612.3 115.3,615.6 117.5,619.0 119.7,622.4 121.9,625.8 124.2,629.3 126.4,632.8 128.6,636.4 130.8,640.0 133.1,643.6 135.3,647.2 137.5,650.9 139.7,654.6 141.9,658.4 144.2,662.1 146.4,666.0 148.6,669.8 150.8,673.7 153.1,677.6 155.3,681.5 155.3,681.5 336.6,681.5"/><polyline fill="none" stroke="#8cb034" stroke-width="1.3" stroke-dasharray="1.3 2.7" points="142.0,658.5 159.7,681.5"/><polyline fill="none" stroke="#8cb034" stroke-width="1.3" stroke-dasharray="1.3 2.7" points="257.7,681.5 262.1,661.2 265.6,622.0 269.9,575.2 273.4,550.3 275.4,541.1 286.2,526.9 292.9,526.9 294.5,526.9 296.3,526.9 298.1,526.9 299.6,526.9 300.8,526.9 301.9,526.9 302.8,526.9 303.6,526.9 304.5,526.9 305.5,526.9 306.4,526.9 327.7,526.9"/><path d="M39.70 517.49L42.85 520.99L39.70 524.49L36.55 520.99Z"/><path d="M47.53 525.51L50.68 529.01L47.53 532.51L44.38 529.01Z"/><path d="M53.09 531.46L56.24 534.96L53.09 538.46L49.94 534.96Z"/><path d="M63.89 543.63L67.04 547.13L63.89 550.63L60.74 547.13Z"/><path d="M70.78 551.80L73.93 555.30L70.78 558.80L67.63 555.30Z"/><path d="M75.85 558.02L79.00 561.52L75.85 565.02L72.70 561.52Z"/><path d="M79.86 563.06L83.01 566.56L79.86 570.06L76.71 566.56Z"/><path d="M84.17 568.60L87.32 572.10L84.17 575.60L81.02 572.10Z"/><path d="M92.00 578.99L95.15 582.49L92.00 585.99L88.85 582.49Z"/><path d="M96.04 584.53L99.19 588.03L96.04 591.53L92.89 588.03Z"/><path d="M97.56 586.63L100.71 590.13L97.56 593.63L94.41 590.13Z"/><path d="M105.38 597.73L108.53 601.23L105.38 604.73L102.23 601.23Z"/><path d="M115.25 612.33L118.40 615.83L115.25 619.33L112.10 615.83Z"/><path d="M121.75 622.29L124.90 625.79L121.75 629.29L118.60 625.79Z"/><path d="M124.33 626.33L127.48 629.83L124.33 633.33L121.18 629.83Z"/><path d="M128.64 633.18L131.79 636.68L128.64 640.18L125.49 636.68Z"/><path d="M142.03 655.26L145.18 658.76L142.03 662.26L138.88 658.76Z"/><path d="M159.72 678.25L162.87 681.75L159.72 685.25L156.57 681.75Z"/><path d="M173.11 678.25L176.26 681.75L173.11 685.25L169.96 681.75Z"/><path d="M186.50 678.25L189.65 681.75L186.50 685.25L183.35 681.75Z"/><path d="M204.19 678.25L207.34 681.75L204.19 685.25L201.04 681.75Z"/><path d="M217.58 678.25L220.73 681.75L217.58 685.25L214.43 681.75Z"/><path d="M230.97 678.25L234.12 681.75L230.97 685.25L227.82 681.75Z"/><path d="M248.66 678.25L251.81 681.75L248.66 685.25L245.51 681.75Z"/><path d="M257.74 678.25L260.89 681.75L257.74 685.25L254.59 681.75Z"/><path d="M262.05 657.94L265.20 661.44L262.05 664.94L258.90 661.44Z"/><path d="M265.56 618.76L268.71 622.26L265.56 625.76L262.41 622.26Z"/><path d="M269.88 571.90L273.03 575.40L269.88 578.90L266.73 575.40Z"/><path d="M273.39 547.03L276.54 550.53L273.39 554.03L270.24 550.53Z"/><path d="M275.44 537.83L278.59 541.33L275.44 544.83L272.29 541.33Z"/><path d="M286.24 523.65L289.39 527.15L286.24 530.65L283.09 527.15Z"/><path d="M292.91 523.65L296.06 527.15L292.91 530.65L289.76 527.15Z"/><path d="M294.51 523.65L297.66 527.15L294.51 530.65L291.36 527.15Z"/><path d="M296.29 523.65L299.44 527.15L296.29 530.65L293.14 527.15Z"/><path d="M298.07 523.65L301.22 527.15L298.07 530.65L294.92 527.15Z"/><path d="M299.63 523.65L302.78 527.15L299.63 530.65L296.48 527.15Z"/><path d="M300.83 523.65L303.98 527.15L300.83 530.65L297.68 527.15Z"/><path d="M301.94 523.65L305.09 527.15L301.94 530.65L298.79 527.15Z"/><path d="M302.83 523.65L305.98 527.15L302.83 530.65L299.68 527.15Z"/><path d="M303.63 523.65L306.78 527.15L303.63 530.65L300.48 527.15Z"/><path d="M304.52 523.65L307.67 527.15L304.52 530.65L301.37 527.15Z"/><path d="M305.54 523.65L308.69 527.15L305.54 530.65L302.39 527.15Z"/><path d="M306.43 523.65L309.58 527.15L306.43 530.65L303.28 527.15Z"/><path d="M327.73 523.65L330.88 527.15L327.73 530.65L324.58 527.15Z"/></g>
</g>
<text x="59.90" y="505.60" font-size="11.3" letter-spacing="0.054" fill="#231f20">Varying mortality rate function shape parameter <tspan font-style="italic">γ</tspan></text>
<text x="0.20" y="507.00" font-size="16" font-weight="bold" fill="#000">e</text>
<text transform="translate(9.00 601.45) rotate(-90)" text-anchor="middle" font-size="11.2" fill="#231f20">Frequency of specialist</text>
<text x="183.65" y="723.00" text-anchor="middle" font-size="11" fill="#231f20">Body mass (g)</text>
<text x="279.60" y="609.60" font-size="11" font-style="italic" fill="#557ab8">γ</text>
<text x="287.70" y="609.30" font-size="9" fill="#557ab8">=</text>
<text x="295.00" y="609.60" font-size="11" fill="#557ab8">10</text>
<text x="279.60" y="625.50" font-size="11" font-style="italic" fill="#e49d26">γ</text>
<text x="287.70" y="625.20" font-size="9" fill="#e49d26">=</text>
<text x="295.00" y="625.50" font-size="11" fill="#e49d26">100</text>
<text x="279.60" y="641.40" font-size="11" font-style="italic" fill="#8cb034">γ</text>
<text x="287.70" y="641.10" font-size="9" fill="#8cb034">=</text>
<text x="295.00" y="641.40" font-size="11" fill="#8cb034">1,000</text>
<rect x="396.50" y="511.50" width="287.80" height="177.90" fill="none" stroke="#808080" stroke-width="1"/>
<line x1="396.50" y1="680.50" x2="399.50" y2="680.50" stroke="#808080" stroke-width="1"/>
<text x="390.20" y="683.65" text-anchor="end" font-size="9.8" fill="#231f20">0</text>
<line x1="396.50" y1="657.88" x2="399.50" y2="657.88" stroke="#808080" stroke-width="1"/>
<text x="390.20" y="661.03" text-anchor="end" font-size="9.8" fill="#231f20">0.1</text>
<line x1="396.50" y1="635.26" x2="399.50" y2="635.26" stroke="#808080" stroke-width="1"/>
<text x="390.20" y="638.41" text-anchor="end" font-size="9.8" fill="#231f20">0.2</text>
<line x1="396.50" y1="612.64" x2="399.50" y2="612.64" stroke="#808080" stroke-width="1"/>
<text x="390.20" y="615.79" text-anchor="end" font-size="9.8" fill="#231f20">0.3</text>
<line x1="396.50" y1="590.02" x2="399.50" y2="590.02" stroke="#808080" stroke-width="1"/>
<text x="390.20" y="593.17" text-anchor="end" font-size="9.8" fill="#231f20">0.4</text>
<line x1="396.50" y1="567.40" x2="399.50" y2="567.40" stroke="#808080" stroke-width="1"/>
<text x="390.20" y="570.55" text-anchor="end" font-size="9.8" fill="#231f20">0.5</text>
<line x1="396.50" y1="544.78" x2="399.50" y2="544.78" stroke="#808080" stroke-width="1"/>
<text x="390.20" y="547.93" text-anchor="end" font-size="9.8" fill="#231f20">0.6</text>
<line x1="396.50" y1="522.16" x2="399.50" y2="522.16" stroke="#808080" stroke-width="1"/>
<text x="390.20" y="525.31" text-anchor="end" font-size="9.8" fill="#231f20">0.7</text>
<text x="396.50" y="703.50" text-anchor="middle" font-size="9.5" fill="#231f20">1</text>
<line x1="441.00" y1="689.40" x2="441.00" y2="686.40" stroke="#808080" stroke-width="1"/>
<text x="441.00" y="703.50" text-anchor="middle" font-size="9.5" fill="#231f20">10</text>
<line x1="485.50" y1="689.40" x2="485.50" y2="686.40" stroke="#808080" stroke-width="1"/>
<text x="478.90" y="703.50" font-size="9.5" fill="#231f20">10<tspan font-size="6.2" dx="-0.2" dy="-4.3">2</tspan></text>
<line x1="530.00" y1="689.40" x2="530.00" y2="686.40" stroke="#808080" stroke-width="1"/>
<text x="523.40" y="703.50" font-size="9.5" fill="#231f20">10<tspan font-size="6.2" dx="-0.2" dy="-4.3">3</tspan></text>
<line x1="574.50" y1="689.40" x2="574.50" y2="686.40" stroke="#808080" stroke-width="1"/>
<text x="567.90" y="703.50" font-size="9.5" fill="#231f20">10<tspan font-size="6.2" dx="-0.2" dy="-4.3">4</tspan></text>
<line x1="619.00" y1="689.40" x2="619.00" y2="686.40" stroke="#808080" stroke-width="1"/>
<text x="612.40" y="703.50" font-size="9.5" fill="#231f20">10<tspan font-size="6.2" dx="-0.2" dy="-4.3">5</tspan></text>
<line x1="663.50" y1="689.40" x2="663.50" y2="686.40" stroke="#808080" stroke-width="1"/>
<text x="656.90" y="703.50" font-size="9.5" fill="#231f20">10<tspan font-size="6.2" dx="-0.2" dy="-4.3">6</tspan></text>
<clipPath id="c908"><rect x="396.50" y="511.50" width="287.80" height="177.90"/></clipPath>
<g clip-path="url(#c908)">
<g fill="#557ab8"><polyline fill="none" stroke="#557ab8" stroke-width="1.6" stroke-linejoin="round" points="396.5,519.9 398.7,521.4 400.9,522.9 403.1,524.4 405.3,526.0 407.5,527.6 409.7,529.3 411.9,530.9 414.1,532.6 416.3,534.3 418.5,536.0 420.7,537.8 422.9,539.6 425.1,541.3 427.3,543.2 429.5,545.0 431.7,546.9 433.9,548.8 436.1,550.8 438.3,552.9 440.5,555.0 442.7,557.2 445.0,559.5 447.2,561.9 449.4,564.4 451.6,567.0 453.8,569.6 456.0,572.2 458.2,574.8 460.4,577.4 462.6,580.0 464.8,582.5 467.0,585.0 469.2,587.5 471.4,590.1 473.6,592.8 475.8,595.6 478.0,598.5 480.2,601.5 482.4,604.6 484.6,607.7 486.8,611.0 489.0,614.3 491.2,617.7 493.4,621.1 495.6,624.6 497.8,628.1 500.0,631.7 502.2,635.4 504.4,639.2 506.6,643.0 508.8,646.9 511.0,650.8 513.2,654.9 515.4,659.0 517.6,663.2 519.8,667.4 522.0,671.7 524.2,676.1 526.4,680.5 526.4,680.5"/><polyline fill="none" stroke="#557ab8" stroke-width="1.3" stroke-dasharray="1.3 2.7" points="396.5,519.9 404.3,525.3 409.9,529.4 420.7,537.8 427.6,543.6 432.7,547.9 436.7,551.6 441.0,556.1 448.8,562.9 452.9,567.2 454.4,569.7 462.2,577.4 472.1,588.2 478.6,599.5 481.2,606.1 485.5,616.4 498.9,630.0 516.6,653.5 530.0,680.5"/><polyline fill="none" stroke="#557ab8" stroke-width="1.3" stroke-dasharray="1.3 2.7" points="587.9,680.5 605.6,643.2 614.7,567.5 619.0,548.4 622.5,540.3 626.8,535.3 630.3,532.8 632.4,532.3 643.2,531.8 649.9,531.8 651.5,531.8 653.3,531.8 655.0,531.8 656.6,531.8 657.8,531.8 658.9,531.8 659.8,531.8 660.6,531.8 661.5,531.8 662.5,531.8 663.4,531.8 684.7,531.8"/><ellipse cx="396.50" cy="520.15" rx="2.3" ry="2.6"/><ellipse cx="404.33" cy="525.58" rx="2.3" ry="2.6"/><ellipse cx="409.89" cy="529.65" rx="2.3" ry="2.6"/><ellipse cx="420.71" cy="538.02" rx="2.3" ry="2.6"/><ellipse cx="427.61" cy="543.90" rx="2.3" ry="2.6"/><ellipse cx="432.68" cy="548.20" rx="2.3" ry="2.6"/><ellipse cx="436.68" cy="551.82" rx="2.3" ry="2.6"/><ellipse cx="441.00" cy="556.34" rx="2.3" ry="2.6"/><ellipse cx="448.83" cy="563.13" rx="2.3" ry="2.6"/><ellipse cx="452.88" cy="567.42" rx="2.3" ry="2.6"/><ellipse cx="454.39" cy="569.91" rx="2.3" ry="2.6"/><ellipse cx="462.23" cy="577.60" rx="2.3" ry="2.6"/><ellipse cx="472.11" cy="588.46" rx="2.3" ry="2.6"/><ellipse cx="478.60" cy="599.77" rx="2.3" ry="2.6"/><ellipse cx="481.18" cy="606.33" rx="2.3" ry="2.6"/><ellipse cx="485.50" cy="616.64" rx="2.3" ry="2.6"/><ellipse cx="498.89" cy="630.24" rx="2.3" ry="2.6"/><ellipse cx="516.61" cy="653.74" rx="2.3" ry="2.6"/><ellipse cx="530.00" cy="680.75" rx="2.3" ry="2.6"/><ellipse cx="543.39" cy="680.75" rx="2.3" ry="2.6"/><ellipse cx="561.11" cy="680.75" rx="2.3" ry="2.6"/><ellipse cx="574.50" cy="680.75" rx="2.3" ry="2.6"/><ellipse cx="587.89" cy="680.75" rx="2.3" ry="2.6"/><ellipse cx="605.61" cy="643.43" rx="2.3" ry="2.6"/><ellipse cx="614.68" cy="567.76" rx="2.3" ry="2.6"/><ellipse cx="619.00" cy="548.65" rx="2.3" ry="2.6"/><ellipse cx="622.52" cy="540.51" rx="2.3" ry="2.6"/><ellipse cx="626.83" cy="535.53" rx="2.3" ry="2.6"/><ellipse cx="630.35" cy="533.04" rx="2.3" ry="2.6"/><ellipse cx="632.39" cy="532.59" rx="2.3" ry="2.6"/><ellipse cx="643.21" cy="532.05" rx="2.3" ry="2.6"/><ellipse cx="649.88" cy="532.05" rx="2.3" ry="2.6"/><ellipse cx="651.49" cy="532.05" rx="2.3" ry="2.6"/><ellipse cx="653.26" cy="532.05" rx="2.3" ry="2.6"/><ellipse cx="655.04" cy="532.05" rx="2.3" ry="2.6"/><ellipse cx="656.60" cy="532.05" rx="2.3" ry="2.6"/><ellipse cx="657.80" cy="532.05" rx="2.3" ry="2.6"/><ellipse cx="658.92" cy="532.05" rx="2.3" ry="2.6"/><ellipse cx="659.81" cy="532.05" rx="2.3" ry="2.6"/><ellipse cx="660.61" cy="532.05" rx="2.3" ry="2.6"/><ellipse cx="661.50" cy="532.05" rx="2.3" ry="2.6"/><ellipse cx="662.52" cy="532.05" rx="2.3" ry="2.6"/><ellipse cx="663.41" cy="532.05" rx="2.3" ry="2.6"/><ellipse cx="684.73" cy="532.05" rx="2.3" ry="2.6"/></g>
<g fill="#e49d26"><polyline fill="none" stroke="#e49d26" stroke-width="1.6" stroke-linejoin="round" points="396.5,548.2 398.7,550.0 400.9,551.9 403.2,553.8 405.4,555.7 407.6,557.6 409.8,559.6 412.1,561.6 414.3,563.7 416.5,565.7 418.7,567.8 421.0,569.9 423.2,572.1 425.4,574.2 427.6,576.4 429.9,578.7 432.1,580.9 434.3,583.2 436.5,585.5 438.8,587.9 441.0,590.2 443.2,592.6 445.4,595.0 447.7,597.5 449.9,600.0 452.1,602.5 454.3,605.0 456.6,607.6 458.8,610.2 461.0,612.8 463.2,615.4 465.4,618.1 467.7,620.8 469.9,623.5 472.1,626.3 474.3,629.0 476.6,631.8 478.8,634.7 481.0,637.5 483.2,640.4 485.5,643.4 487.7,646.3 489.9,649.3 492.1,652.3 494.4,655.3 496.6,658.4 498.8,661.5 501.0,664.6 503.3,667.7 505.5,670.9 507.7,674.1 509.9,677.3 512.2,680.5 512.2,680.5"/><polyline fill="none" stroke="#e49d26" stroke-width="1.3" stroke-dasharray="1.3 2.7" points="498.9,661.6 516.6,680.5"/><polyline fill="none" stroke="#e49d26" stroke-width="1.3" stroke-dasharray="1.3 2.7" points="587.9,680.5 605.6,658.6 614.7,591.2 619.0,571.5 622.5,562.9 626.8,557.5 630.3,554.6 632.4,553.8 643.2,553.3 649.9,553.3 651.5,553.3 653.3,553.3 655.0,553.3 656.6,553.3 657.8,553.3 658.9,553.3 659.8,553.3 660.6,553.3 661.5,553.3 662.5,553.3 663.4,553.3 684.7,553.3"/><rect x="394.05" y="545.72" width="4.9" height="5.4"/><rect x="401.88" y="552.32" width="4.9" height="5.4"/><rect x="407.44" y="557.22" width="4.9" height="5.4"/><rect x="418.26" y="567.24" width="4.9" height="5.4"/><rect x="425.16" y="573.97" width="4.9" height="5.4"/><rect x="430.23" y="579.09" width="4.9" height="5.4"/><rect x="434.23" y="583.23" width="4.9" height="5.4"/><rect x="438.55" y="587.80" width="4.9" height="5.4"/><rect x="446.38" y="596.35" width="4.9" height="5.4"/><rect x="450.43" y="600.90" width="4.9" height="5.4"/><rect x="451.94" y="602.63" width="4.9" height="5.4"/><rect x="459.78" y="611.77" width="4.9" height="5.4"/><rect x="469.66" y="623.79" width="4.9" height="5.4"/><rect x="476.15" y="631.99" width="4.9" height="5.4"/><rect x="478.73" y="635.31" width="4.9" height="5.4"/><rect x="483.05" y="640.95" width="4.9" height="5.4"/><rect x="496.44" y="659.12" width="4.9" height="5.4"/><rect x="514.16" y="678.05" width="4.9" height="5.4"/><rect x="527.55" y="678.05" width="4.9" height="5.4"/><rect x="540.94" y="678.05" width="4.9" height="5.4"/><rect x="558.66" y="678.05" width="4.9" height="5.4"/><rect x="572.05" y="678.05" width="4.9" height="5.4"/><rect x="585.44" y="678.05" width="4.9" height="5.4"/><rect x="603.16" y="656.15" width="4.9" height="5.4"/><rect x="612.23" y="588.70" width="4.9" height="5.4"/><rect x="616.55" y="569.02" width="4.9" height="5.4"/><rect x="620.07" y="560.43" width="4.9" height="5.4"/><rect x="624.38" y="555.07" width="4.9" height="5.4"/><rect x="627.90" y="552.15" width="4.9" height="5.4"/><rect x="629.94" y="551.38" width="4.9" height="5.4"/><rect x="640.76" y="550.86" width="4.9" height="5.4"/><rect x="647.43" y="550.86" width="4.9" height="5.4"/><rect x="649.03" y="550.86" width="4.9" height="5.4"/><rect x="650.81" y="550.86" width="4.9" height="5.4"/><rect x="652.59" y="550.86" width="4.9" height="5.4"/><rect x="654.15" y="550.86" width="4.9" height="5.4"/><rect x="655.35" y="550.86" width="4.9" height="5.4"/><rect x="656.47" y="550.86" width="4.9" height="5.4"/><rect x="657.36" y="550.86" width="4.9" height="5.4"/><rect x="658.16" y="550.86" width="4.9" height="5.4"/><rect x="659.05" y="550.86" width="4.9" height="5.4"/><rect x="660.07" y="550.86" width="4.9" height="5.4"/><rect x="660.96" y="550.86" width="4.9" height="5.4"/><rect x="682.28" y="550.86" width="4.9" height="5.4"/></g>
<g fill="#8cb034"><polyline fill="none" stroke="#8cb034" stroke-width="1.6" stroke-linejoin="round" points="396.5,570.6 398.7,572.6 400.9,574.7 403.1,576.8 405.3,578.8 407.5,580.8 409.7,582.9 411.9,585.0 414.1,587.1 416.4,589.3 418.6,591.5 420.8,593.6 423.0,595.6 425.2,597.5 427.4,599.5 429.6,601.8 431.8,604.1 434.0,606.1 436.2,608.1 438.4,610.7 440.6,613.7 442.8,616.2 445.0,618.6 447.2,620.8 449.4,623.0 451.7,624.9 453.9,627.7 456.1,630.6 458.3,633.0 460.5,635.4 462.7,637.8 464.9,640.2 467.1,642.6 469.3,645.1 471.5,647.5 473.7,650.1 475.9,652.7 478.1,655.3 480.3,657.6 482.5,659.9 484.7,662.2 486.9,664.5 489.2,666.8 491.4,669.1 493.6,671.5 495.8,674.1 498.0,676.9 500.2,680.5 500.2,680.5 693.6,680.5"/><polyline fill="none" stroke="#8cb034" stroke-width="1.3" stroke-dasharray="1.3 2.7" points="498.9,678.2 516.6,680.5"/><polyline fill="none" stroke="#8cb034" stroke-width="1.3" stroke-dasharray="1.3 2.7" points="587.9,680.5 605.6,666.0 614.7,608.6 619.0,589.2 622.5,580.6 626.8,573.9 630.3,571.4 632.4,570.6 643.2,569.9 649.9,569.9 651.5,569.9 653.3,569.9 655.0,569.9 656.6,569.9 657.8,569.9 658.9,569.9 659.8,569.9 660.6,569.9 661.5,569.9 662.5,569.9 663.4,569.9 684.7,569.9"/><path d="M396.50 567.32L399.65 570.82L396.50 574.32L393.35 570.82Z"/><path d="M404.33 574.65L407.48 578.15L404.33 581.65L401.18 578.15Z"/><path d="M409.89 579.76L413.04 583.26L409.89 586.76L406.74 583.26Z"/><path d="M420.71 590.25L423.86 593.75L420.71 597.25L417.56 593.75Z"/><path d="M427.61 596.50L430.76 600.00L427.61 603.50L424.46 600.00Z"/><path d="M432.68 601.70L435.83 605.20L432.68 608.70L429.53 605.20Z"/><path d="M436.68 605.32L439.83 608.82L436.68 612.32L433.53 608.82Z"/><path d="M441.00 610.86L444.15 614.36L441.00 617.86L437.85 614.36Z"/><path d="M448.83 619.16L451.98 622.66L448.83 626.16L445.68 622.66Z"/><path d="M452.88 622.96L456.03 626.46L452.88 629.96L449.73 626.46Z"/><path d="M454.39 625.22L457.54 628.72L454.39 632.22L451.24 628.72Z"/><path d="M462.23 634.05L465.38 637.55L462.23 641.05L459.08 637.55Z"/><path d="M472.11 644.95L475.26 648.45L472.11 651.95L468.96 648.45Z"/><path d="M478.60 652.59L481.75 656.09L478.60 659.59L475.45 656.09Z"/><path d="M481.18 655.24L484.33 658.74L481.18 662.24L478.03 658.74Z"/><path d="M485.50 659.74L488.65 663.24L485.50 666.74L482.35 663.24Z"/><path d="M498.89 674.99L502.04 678.49L498.89 681.99L495.74 678.49Z"/><path d="M516.61 677.25L519.76 680.75L516.61 684.25L513.46 680.75Z"/><path d="M530.00 677.25L533.15 680.75L530.00 684.25L526.85 680.75Z"/><path d="M543.39 677.25L546.54 680.75L543.39 684.25L540.24 680.75Z"/><path d="M561.11 677.25L564.26 680.75L561.11 684.25L557.96 680.75Z"/><path d="M574.50 677.25L577.65 680.75L574.50 684.25L571.35 680.75Z"/><path d="M587.89 677.25L591.04 680.75L587.89 684.25L584.74 680.75Z"/><path d="M605.61 662.77L608.76 666.27L605.61 669.77L602.46 666.27Z"/><path d="M614.68 605.32L617.83 608.82L614.68 612.32L611.53 608.82Z"/><path d="M619.00 585.96L622.15 589.46L619.00 592.96L615.85 589.46Z"/><path d="M622.52 577.36L625.67 580.86L622.52 584.36L619.37 580.86Z"/><path d="M626.83 570.64L629.98 574.14L626.83 577.64L623.68 574.14Z"/><path d="M630.35 568.15L633.50 571.65L630.35 575.15L627.20 571.65Z"/><path d="M632.39 567.32L635.54 570.82L632.39 574.32L629.24 570.82Z"/><path d="M643.21 566.64L646.36 570.14L643.21 573.64L640.06 570.14Z"/><path d="M649.88 566.64L653.03 570.14L649.88 573.64L646.73 570.14Z"/><path d="M651.49 566.64L654.63 570.14L651.49 573.64L648.34 570.14Z"/><path d="M653.26 566.64L656.41 570.14L653.26 573.64L650.12 570.14Z"/><path d="M655.04 566.64L658.19 570.14L655.04 573.64L651.89 570.14Z"/><path d="M656.60 566.64L659.75 570.14L656.60 573.64L653.45 570.14Z"/><path d="M657.80 566.64L660.95 570.14L657.80 573.64L654.65 570.14Z"/><path d="M658.92 566.64L662.07 570.14L658.92 573.64L655.77 570.14Z"/><path d="M659.81 566.64L662.96 570.14L659.81 573.64L656.66 570.14Z"/><path d="M660.61 566.64L663.76 570.14L660.61 573.64L657.46 570.14Z"/><path d="M661.50 566.64L664.65 570.14L661.50 573.64L658.35 570.14Z"/><path d="M662.52 566.64L665.67 570.14L662.52 573.64L659.37 570.14Z"/><path d="M663.41 566.64L666.56 570.14L663.41 573.64L660.26 570.14Z"/><path d="M684.73 566.64L687.88 570.14L684.73 573.64L681.58 570.14Z"/></g>
</g>
<text x="415.20" y="503.60" font-size="11.3" letter-spacing="0.000" fill="#231f20">Varying resource replenishment rate parameter <tspan font-style="italic">R</tspan><tspan font-size="7.5" dy="2.8">2</tspan></text>
<text x="356.20" y="507.00" font-size="16" font-weight="bold" fill="#000">f</text>
<text transform="translate(365.50 600.45) rotate(-90)" text-anchor="middle" font-size="11.2" fill="#231f20">Frequency of specialist</text>
<text x="540.40" y="724.00" text-anchor="middle" font-size="11" fill="#231f20">Body mass (g)</text>
<text x="624.60" y="610.00" font-size="11" font-style="italic" fill="#557ab8">R</text>
<text x="630.80" y="612.60" font-size="7.6" fill="#557ab8">2</text>
<text x="638.40" y="609.70" font-size="9" fill="#557ab8">=</text>
<text x="646.60" y="610.00" font-size="11.3" fill="#557ab8">0.3</text>
<text x="624.60" y="626.80" font-size="11" font-style="italic" fill="#e49d26">R</text>
<text x="630.80" y="629.40" font-size="7.6" fill="#e49d26">2</text>
<text x="638.40" y="626.50" font-size="9" fill="#e49d26">=</text>
<text x="646.60" y="626.80" font-size="11.3" fill="#e49d26">0.5</text>
<text x="624.60" y="643.40" font-size="11" font-style="italic" fill="#8cb034">R</text>
<text x="630.80" y="646.00" font-size="7.6" fill="#8cb034">2</text>
<text x="638.40" y="643.10" font-size="9" fill="#8cb034">=</text>
<text x="646.60" y="643.40" font-size="11.3" fill="#8cb034">0.7</text>
</svg>
</body></html>
